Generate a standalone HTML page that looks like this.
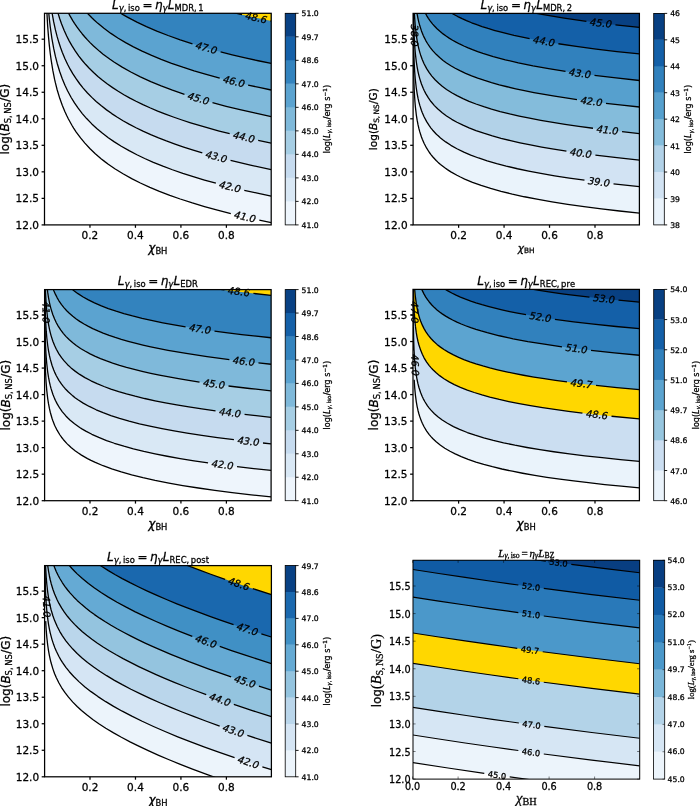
<!DOCTYPE html>
<html lang="en"><head><meta charset="utf-8"><title>Luminosity contours</title>
<style>
html,body{margin:0;padding:0;background:#fff;}
body{width:700px;height:806px;overflow:hidden;font-family:"DejaVu Sans","Liberation Sans",sans-serif;}
svg{display:block;}
text{fill:#000;stroke:#000;stroke-width:0.28px;}
</style></head><body>
<svg width="700" height="806" viewBox="0 0 700 806">
<rect width="700" height="806" fill="#fff"/>
<clipPath id="c0"><rect x="44.50" y="13.30" width="226.70" height="211.60"/></clipPath>
<g clip-path="url(#c0)">
<polygon fill="#eef5fc" points="46.5,-46.7 46.51,5.24 47.62,25.43 48.49,36.66 49.35,45.68 50.22,53.22 51.09,59.70 52.82,70.44 54.55,79.14 56.29,86.46 58.89,95.63 61.49,103.27 63.22,107.75 64.95,111.82 66.69,115.57 68.42,119.03 71.89,125.26 73.62,128.09 76.22,132.03 80.55,137.93 83.15,141.13 85.75,144.13 88.35,146.95 91.82,150.45 94.42,152.91 97.88,156.01 101.35,158.91 104.82,161.63 108.28,164.21 112.61,167.24 120.41,172.23 129.08,177.21 138.61,182.13 149.01,186.96 159.41,191.33 170.68,195.64 182.81,199.87 195.81,204.01 208.81,207.81 223.54,211.76 238.27,215.41 254.73,219.17 271.20,222.64 273.2,222.6 273.2,-46.7"/>
<polygon fill="#d9e8f5" points="47.6,-46.7 47.62,-1.10 48.49,10.13 49.35,19.15 50.22,26.69 51.09,33.17 52.82,43.91 54.55,52.61 55.42,56.41 57.15,63.19 59.75,71.79 62.35,79.03 64.95,85.29 66.69,89.04 68.42,92.50 71.89,98.73 73.62,101.56 76.22,105.50 80.55,111.40 83.15,114.60 85.75,117.60 90.95,123.07 93.55,125.58 97.02,128.73 103.08,133.76 110.01,138.91 113.48,141.29 117.81,144.10 125.61,148.75 134.28,153.43 143.81,158.08 153.34,162.30 163.74,166.51 175.01,170.67 186.27,174.48 198.41,178.27 211.41,182.00 225.27,185.68 240.00,189.29 255.60,192.83 271.20,196.11 273.2,196.1 273.2,-46.7"/>
<polygon fill="#c6dbef" points="51.1,-46.7 51.09,6.65 52.82,17.38 54.55,26.08 56.29,33.40 58.02,39.71 60.62,47.81 63.22,54.69 65.82,60.68 69.29,67.61 72.75,73.64 76.22,78.97 80.55,84.87 84.88,90.10 90.08,95.67 95.28,100.65 100.48,105.14 106.55,109.88 112.61,114.18 119.55,118.64 127.35,123.20 135.15,127.34 143.81,131.55 152.48,135.41 162.01,139.30 171.54,142.90 181.94,146.52 193.21,150.15 204.47,153.52 216.61,156.89 229.60,160.24 242.60,163.37 256.47,166.49 271.20,169.58 273.2,169.6 273.2,-46.7"/>
<polygon fill="#a6cee4" points="56.3,-46.7 56.29,6.87 58.02,13.18 60.62,21.28 62.35,25.98 64.95,32.24 67.55,37.75 71.02,44.20 74.48,49.85 77.95,54.89 81.42,59.43 85.75,64.55 90.08,69.15 95.28,74.12 100.48,78.61 105.68,82.70 110.88,86.46 116.95,90.49 123.01,94.20 129.95,98.09 136.88,101.69 144.68,105.42 152.48,108.88 161.14,112.43 169.81,115.74 179.34,119.11 188.87,122.26 199.27,125.47 209.67,128.46 220.94,131.50 233.07,134.57 245.20,137.44 258.20,140.33 271.20,143.05 273.2,143.1 273.2,-46.7"/>
<polygon fill="#7fb9da" points="65.0,-46.7 64.95,5.71 67.55,11.22 70.15,16.14 72.75,20.58 76.22,25.91 79.68,30.69 83.15,35.02 86.62,38.97 90.08,42.62 94.42,46.80 98.75,50.64 103.08,54.18 108.28,58.09 113.48,61.70 118.68,65.05 123.88,68.17 129.95,71.57 136.01,74.73 142.95,78.09 149.88,81.23 156.81,84.16 164.61,87.25 172.41,90.15 180.21,92.88 188.87,95.73 197.54,98.42 207.07,101.20 216.61,103.83 227.00,106.53 237.40,109.09 248.67,111.70 259.93,114.18 271.20,116.53 273.2,116.5 273.2,-46.7"/>
<polygon fill="#5ba3d0" points="81.4,-46.7 81.42,6.38 84.02,9.51 87.48,13.38 90.95,16.96 94.42,20.27 97.88,23.36 101.35,26.26 104.82,28.99 109.15,32.19 113.48,35.17 117.81,37.98 122.15,40.63 127.35,43.61 132.55,46.42 137.75,49.06 142.95,51.56 149.01,54.32 155.08,56.92 161.14,59.38 173.28,63.94 187.14,68.65 201.87,73.18 217.47,77.53 234.80,81.93 252.14,85.95 271.20,90.00 273.2,90.0 273.2,-46.7"/>
<polygon fill="#3383be" points="110.9,-46.7 110.88,6.88 117.81,11.45 124.75,15.62 131.68,19.43 139.48,23.38 147.28,27.02 155.94,30.75 165.48,34.53 175.01,38.02 185.41,41.56 195.81,44.84 207.07,48.15 218.34,51.23 230.47,54.34 243.47,57.46 257.33,60.56 271.20,63.47 273.2,63.5 273.2,-46.7"/>
<polygon fill="#1460a8" points="212.3,-46.7 212.27,7.15 226.14,10.81 240.00,14.20 255.60,17.74 271.20,21.02 273.2,21.0 273.2,-46.7"/>
<polygon fill="#ffd700" points="212.3,-46.7 212.27,7.15 226.14,10.81 240.00,14.20 255.60,17.74 271.20,21.02 273.2,21.0 273.2,-46.7"/>
<polyline fill="none" stroke="#000" stroke-width="1.3" stroke-linejoin="round" points="46.51,5.24 47.62,25.43 48.49,36.66 49.35,45.68 50.22,53.22 51.09,59.70 52.82,70.44 54.55,79.14 55.42,82.94 57.15,89.72 59.75,98.32 62.35,105.56 64.95,111.82 66.69,115.57 68.42,119.03 71.89,125.26 73.62,128.09 76.22,132.03 80.55,137.93 84.88,143.15 90.08,148.73 95.28,153.71 101.35,158.91 104.82,161.63 108.28,164.21 115.21,168.96 123.01,173.78 131.68,178.60 140.35,182.97 149.88,187.34 159.41,191.33 169.81,195.32 180.21,199.00 192.34,202.94 204.47,206.58 217.47,210.18 230.82,213.60"/>
<polyline fill="none" stroke="#000" stroke-width="1.3" stroke-linejoin="round" points="259.32,220.16 271.20,222.64"/>
<polyline fill="none" stroke="#000" stroke-width="1.3" stroke-linejoin="round" points="47.62,-1.10 48.49,10.13 49.35,19.15 50.22,26.69 51.95,38.85 53.69,48.47 55.42,56.41 57.15,63.19 59.75,71.79 62.35,79.03 64.95,85.29 67.55,90.80 71.02,97.25 74.48,102.91 77.95,107.95 82.28,113.56 86.62,118.56 91.82,123.92 97.02,128.73 102.22,133.07 108.28,137.68 114.35,141.86 121.28,146.22 129.08,150.68 136.88,154.75 144.68,158.48 153.34,162.30 162.88,166.17 172.41,169.74 182.81,173.34 193.21,176.68 204.47,180.05 215.88,183.22"/>
<polyline fill="none" stroke="#000" stroke-width="1.3" stroke-linejoin="round" points="244.26,190.28 257.33,193.20 271.20,196.11"/>
<polyline fill="none" stroke="#000" stroke-width="1.3" stroke-linejoin="round" points="51.09,6.65 51.95,12.32 53.69,21.94 55.42,29.89 57.15,36.66 58.89,42.57 60.62,47.81 62.35,52.51 64.95,58.77 67.55,64.27 70.15,69.19 72.75,73.64 76.22,78.97 79.68,83.75 83.15,88.08 87.48,92.97 91.82,97.39 96.15,101.43 101.35,105.85 106.55,109.88 111.75,113.59 116.95,117.02 123.01,120.72 129.08,124.15 136.01,127.78 142.95,131.15 150.74,134.66 158.54,137.92 166.34,140.97 175.01,144.14 183.67,147.10 193.21,150.15 202.31,152.89"/>
<polyline fill="none" stroke="#000" stroke-width="1.3" stroke-linejoin="round" points="230.55,160.48 250.40,165.15 271.20,169.58"/>
<polyline fill="none" stroke="#000" stroke-width="1.3" stroke-linejoin="round" points="56.29,6.87 58.02,13.18 59.75,18.73 61.49,23.69 64.09,30.24 66.69,35.98 69.29,41.08 71.89,45.68 75.35,51.17 78.82,56.07 82.28,60.50 85.75,64.55 89.22,68.26 93.55,72.52 97.88,76.42 102.22,80.02 107.42,83.99 112.61,87.65 117.81,91.04 123.88,94.70 129.95,98.09 136.01,101.25 142.95,104.62 149.88,107.75 157.68,111.04 165.48,114.11 173.28,116.99 181.94,119.99 190.61,122.81 200.14,125.72 209.67,128.46 219.20,131.05 229.69,133.73"/>
<polyline fill="none" stroke="#000" stroke-width="1.3" stroke-linejoin="round" points="258.18,140.33 271.20,143.05"/>
<polyline fill="none" stroke="#000" stroke-width="1.3" stroke-linejoin="round" points="64.95,5.71 66.69,9.45 68.42,12.92 70.15,16.14 72.75,20.58 74.48,23.33 77.08,27.15 79.68,30.69 82.28,33.97 84.88,37.04 87.48,39.91 90.08,42.62 93.55,45.99 99.62,51.37 103.08,54.18 106.55,56.82 110.01,59.33 114.35,62.28 122.15,67.16 130.81,72.03 140.35,76.86 150.74,81.60 161.14,85.91 172.41,90.15 184.48,94.31"/>
<polyline fill="none" stroke="#000" stroke-width="1.3" stroke-linejoin="round" points="212.49,102.71 226.14,106.31 240.00,109.70 255.60,113.24 271.20,116.53"/>
<polyline fill="none" stroke="#000" stroke-width="1.3" stroke-linejoin="round" points="81.42,6.38 84.02,9.51 86.62,12.45 91.82,17.81 94.42,20.27 97.88,23.36 103.95,28.32 110.88,33.40 117.81,37.98 125.61,42.64 133.41,46.87 142.08,51.15 151.61,55.45 161.14,59.38 171.54,63.31 182.81,67.23 194.07,70.84 206.21,74.43 219.73,78.13"/>
<polyline fill="none" stroke="#000" stroke-width="1.3" stroke-linejoin="round" points="248.14,85.05 259.07,87.46 271.20,90.00"/>
<polyline fill="none" stroke="#000" stroke-width="1.3" stroke-linejoin="round" points="110.88,6.88 118.68,11.99 123.01,14.61 127.35,17.08 131.68,19.43 136.88,22.10 146.41,26.63 156.81,31.10 168.08,35.51 180.21,39.82 192.49,43.82"/>
<polyline fill="none" stroke="#000" stroke-width="1.3" stroke-linejoin="round" points="220.61,51.83 232.20,54.77 245.20,57.86 258.20,60.75 271.20,63.47"/>
<polyline fill="none" stroke="#000" stroke-width="1.3" stroke-linejoin="round" points="212.27,7.15 227.00,11.03 241.93,14.65"/>
<polyline fill="none" stroke="#000" stroke-width="1.3" stroke-linejoin="round" points="270.50,20.88 271.20,21.02"/>
</g>
<text x="245.07" y="216.88" font-size="9.90" font-family='"DejaVu Sans","Liberation Sans",sans-serif' font-style="italic" text-anchor="middle" dominant-baseline="central" stroke-width="0.12" transform="rotate(13.0 245.07 216.88)">41.0</text>
<text x="230.07" y="186.75" font-size="9.90" font-family='"DejaVu Sans","Liberation Sans",sans-serif' font-style="italic" text-anchor="middle" dominant-baseline="central" stroke-width="0.12" transform="rotate(14.0 230.07 186.75)">42.0</text>
<text x="216.43" y="156.68" font-size="9.90" font-family='"DejaVu Sans","Liberation Sans",sans-serif' font-style="italic" text-anchor="middle" dominant-baseline="central" stroke-width="0.12" transform="rotate(15.0 216.43 156.68)">43.0</text>
<text x="243.94" y="137.03" font-size="9.90" font-family='"DejaVu Sans","Liberation Sans",sans-serif' font-style="italic" text-anchor="middle" dominant-baseline="central" stroke-width="0.12" transform="rotate(13.0 243.94 137.03)">44.0</text>
<text x="198.48" y="98.51" font-size="9.90" font-family='"DejaVu Sans","Liberation Sans",sans-serif' font-style="italic" text-anchor="middle" dominant-baseline="central" stroke-width="0.12" transform="rotate(16.7 198.48 98.51)">45.0</text>
<text x="233.93" y="81.59" font-size="9.90" font-family='"DejaVu Sans","Liberation Sans",sans-serif' font-style="italic" text-anchor="middle" dominant-baseline="central" stroke-width="0.12" transform="rotate(13.7 233.93 81.59)">46.0</text>
<text x="206.55" y="47.82" font-size="9.90" font-family='"DejaVu Sans","Liberation Sans",sans-serif' font-style="italic" text-anchor="middle" dominant-baseline="central" stroke-width="0.12" transform="rotate(15.9 206.55 47.82)">47.0</text>
<text x="256.21" y="17.77" font-size="9.90" font-family='"DejaVu Sans","Liberation Sans",sans-serif' font-style="italic" text-anchor="middle" dominant-baseline="central" stroke-width="0.12" transform="rotate(12.3 256.21 17.77)">48.6</text>
<rect x="44.50" y="13.30" width="226.70" height="211.60" fill="none" stroke="#000" stroke-width="1.25"/>
<line x1="89.96" x2="89.96" y1="224.90" y2="227.80" stroke="#000" stroke-width="1.25"/>
<text x="89.96" y="239.05" font-size="10.5" font-family='"DejaVu Sans","Liberation Sans",sans-serif' text-anchor="middle">0.2</text>
<line x1="135.44" x2="135.44" y1="224.90" y2="227.80" stroke="#000" stroke-width="1.25"/>
<text x="135.44" y="239.05" font-size="10.5" font-family='"DejaVu Sans","Liberation Sans",sans-serif' text-anchor="middle">0.4</text>
<line x1="180.92" x2="180.92" y1="224.90" y2="227.80" stroke="#000" stroke-width="1.25"/>
<text x="180.92" y="239.05" font-size="10.5" font-family='"DejaVu Sans","Liberation Sans",sans-serif' text-anchor="middle">0.6</text>
<line x1="226.40" x2="226.40" y1="224.90" y2="227.80" stroke="#000" stroke-width="1.25"/>
<text x="226.40" y="239.05" font-size="10.5" font-family='"DejaVu Sans","Liberation Sans",sans-serif' text-anchor="middle">0.8</text>
<line x1="44.50" x2="41.60" y1="224.90" y2="224.90" stroke="#000" stroke-width="1.25"/>
<text x="39.00" y="228.89" font-size="10.5" font-family='"DejaVu Sans","Liberation Sans",sans-serif' text-anchor="end">12.0</text>
<line x1="44.50" x2="41.60" y1="198.37" y2="198.37" stroke="#000" stroke-width="1.25"/>
<text x="39.00" y="202.36" font-size="10.5" font-family='"DejaVu Sans","Liberation Sans",sans-serif' text-anchor="end">12.5</text>
<line x1="44.50" x2="41.60" y1="171.84" y2="171.84" stroke="#000" stroke-width="1.25"/>
<text x="39.00" y="175.83" font-size="10.5" font-family='"DejaVu Sans","Liberation Sans",sans-serif' text-anchor="end">13.0</text>
<line x1="44.50" x2="41.60" y1="145.31" y2="145.31" stroke="#000" stroke-width="1.25"/>
<text x="39.00" y="149.30" font-size="10.5" font-family='"DejaVu Sans","Liberation Sans",sans-serif' text-anchor="end">13.5</text>
<line x1="44.50" x2="41.60" y1="118.79" y2="118.79" stroke="#000" stroke-width="1.25"/>
<text x="39.00" y="122.78" font-size="10.5" font-family='"DejaVu Sans","Liberation Sans",sans-serif' text-anchor="end">14.0</text>
<line x1="44.50" x2="41.60" y1="92.26" y2="92.26" stroke="#000" stroke-width="1.25"/>
<text x="39.00" y="96.25" font-size="10.5" font-family='"DejaVu Sans","Liberation Sans",sans-serif' text-anchor="end">14.5</text>
<line x1="44.50" x2="41.60" y1="65.73" y2="65.73" stroke="#000" stroke-width="1.25"/>
<text x="39.00" y="69.72" font-size="10.5" font-family='"DejaVu Sans","Liberation Sans",sans-serif' text-anchor="end">15.0</text>
<line x1="44.50" x2="41.60" y1="39.20" y2="39.20" stroke="#000" stroke-width="1.25"/>
<text x="39.00" y="43.19" font-size="10.5" font-family='"DejaVu Sans","Liberation Sans",sans-serif' text-anchor="end">15.5</text>
<text transform="translate(157.85 8.60)" font-family='"DejaVu Sans","Liberation Sans",sans-serif'><tspan x="-45.82" y="-0.00" font-size="12.00" font-style="italic">L</tspan><tspan x="-39.14" y="1.97" font-size="8.40" font-style="italic">γ</tspan><tspan x="-34.17 -29.86 -27.53 -23.15" y="1.97" font-size="8.40">,iso</tspan><tspan x="-15.35" y="-0.00" font-size="12.00">=</tspan><tspan x="-2.95" y="-0.00" font-size="12.00" font-style="italic">η</tspan><tspan x="4.65" y="1.97" font-size="8.40" font-style="italic">γ</tspan><tspan x="9.95" y="-0.00" font-size="12.00" font-style="italic">L</tspan><tspan x="16.64 23.88 30.35 36.19 40.50" y="1.97" font-size="8.40">MDR,1</tspan></text>
<text transform="translate(157.85 251.90)" font-family='"DejaVu Sans","Liberation Sans",sans-serif'><tspan x="-9.58" y="-0.00" font-size="12.00" font-style="italic">χ</tspan><tspan x="-2.48 3.28" y="1.97" font-size="8.40">BH</tspan></text>
<text transform="translate(9.00 119.10) rotate(-90)" font-family='"DejaVu Sans","Liberation Sans",sans-serif'><tspan x="-35.41 -32.07 -24.73 -17.11" y="-0.00" font-size="12.00">log(</tspan><tspan x="-12.43" y="-0.00" font-size="12.00" font-style="italic">B</tspan><tspan x="-4.20 1.13 5.44 11.72" y="1.97" font-size="8.40">S,NS</tspan><tspan x="17.38 21.43 30.72" y="-0.00" font-size="12.00">/G)</tspan></text>
<rect x="285.20" y="201.09" width="10.50" height="23.81" fill="#eef5fc"/>
<rect x="285.20" y="177.58" width="10.50" height="23.81" fill="#d9e8f5"/>
<rect x="285.20" y="154.07" width="10.50" height="23.81" fill="#c6dbef"/>
<rect x="285.20" y="130.56" width="10.50" height="23.81" fill="#a6cee4"/>
<rect x="285.20" y="107.04" width="10.50" height="23.81" fill="#7fb9da"/>
<rect x="285.20" y="83.53" width="10.50" height="23.81" fill="#5ba3d0"/>
<rect x="285.20" y="60.02" width="10.50" height="23.81" fill="#3383be"/>
<rect x="285.20" y="36.51" width="10.50" height="23.81" fill="#1460a8"/>
<rect x="285.20" y="13.00" width="10.50" height="23.81" fill="#084184"/>
<rect x="285.20" y="13.30" width="10.50" height="211.60" fill="none" stroke="#000" stroke-width="0.8"/>
<line x1="295.70" x2="298.60" y1="224.90" y2="224.90" stroke="#000" stroke-width="0.9"/>
<text x="301.60" y="227.97" font-size="7.7" font-family='"DejaVu Sans","Liberation Sans",sans-serif'>41.0</text>
<line x1="295.70" x2="298.60" y1="201.39" y2="201.39" stroke="#000" stroke-width="0.9"/>
<text x="301.60" y="204.46" font-size="7.7" font-family='"DejaVu Sans","Liberation Sans",sans-serif'>42.0</text>
<line x1="295.70" x2="298.60" y1="177.88" y2="177.88" stroke="#000" stroke-width="0.9"/>
<text x="301.60" y="180.95" font-size="7.7" font-family='"DejaVu Sans","Liberation Sans",sans-serif'>43.0</text>
<line x1="295.70" x2="298.60" y1="154.37" y2="154.37" stroke="#000" stroke-width="0.9"/>
<text x="301.60" y="157.44" font-size="7.7" font-family='"DejaVu Sans","Liberation Sans",sans-serif'>44.0</text>
<line x1="295.70" x2="298.60" y1="130.86" y2="130.86" stroke="#000" stroke-width="0.9"/>
<text x="301.60" y="133.93" font-size="7.7" font-family='"DejaVu Sans","Liberation Sans",sans-serif'>45.0</text>
<line x1="295.70" x2="298.60" y1="107.34" y2="107.34" stroke="#000" stroke-width="0.9"/>
<text x="301.60" y="110.42" font-size="7.7" font-family='"DejaVu Sans","Liberation Sans",sans-serif'>46.0</text>
<line x1="295.70" x2="298.60" y1="83.83" y2="83.83" stroke="#000" stroke-width="0.9"/>
<text x="301.60" y="86.91" font-size="7.7" font-family='"DejaVu Sans","Liberation Sans",sans-serif'>47.0</text>
<line x1="295.70" x2="298.60" y1="60.32" y2="60.32" stroke="#000" stroke-width="0.9"/>
<text x="301.60" y="63.39" font-size="7.7" font-family='"DejaVu Sans","Liberation Sans",sans-serif'>48.6</text>
<line x1="295.70" x2="298.60" y1="36.81" y2="36.81" stroke="#000" stroke-width="0.9"/>
<text x="301.60" y="39.88" font-size="7.7" font-family='"DejaVu Sans","Liberation Sans",sans-serif'>49.7</text>
<line x1="295.70" x2="298.60" y1="13.30" y2="13.30" stroke="#000" stroke-width="0.9"/>
<text x="301.60" y="16.37" font-size="7.7" font-family='"DejaVu Sans","Liberation Sans",sans-serif'>51.0</text>
<text transform="translate(330.00 119.10) rotate(-90)" font-family='"DejaVu Sans","Liberation Sans",sans-serif'><tspan x="-34.25 -32.03 -27.13 -22.05" y="-0.00" font-size="8.00">log(</tspan><tspan x="-18.93" y="-0.00" font-size="8.00" font-style="italic">L</tspan><tspan x="-14.48" y="1.31" font-size="5.60" font-style="italic">γ</tspan><tspan x="-11.16 -8.29 -6.73 -3.82" y="1.31" font-size="5.60">,iso</tspan><tspan x="-0.17 2.52 7.44 10.73 18.41" y="-0.00" font-size="8.00">/ergs</tspan><tspan x="22.65 27.35" y="-3.06" font-size="5.60">−1</tspan><tspan x="31.13" y="-0.00" font-size="8.00">)</tspan></text>
<clipPath id="c1"><rect x="413.10" y="13.40" width="226.30" height="211.50"/></clipPath>
<g clip-path="url(#c1)">
<polygon fill="#eaf3fb" points="413.2,-46.6 413.16,6.30 413.36,54.06 413.59,69.97 413.94,83.24 414.49,95.18 415.16,104.46 416.27,114.54 417.14,120.15 418.00,124.66 418.87,128.43 420.60,134.50 422.33,139.31 423.19,141.38 424.92,145.03 427.51,149.62 429.24,152.24 430.97,154.59 434.43,158.67 436.16,160.47 438.76,162.93 441.35,165.15 444.81,167.82 447.41,169.63 450.87,171.85 454.32,173.87 457.78,175.72 461.24,177.44 465.57,179.43 469.89,181.25 474.22,182.95 483.73,186.28 494.11,189.44 505.35,192.44 517.46,195.28 531.30,198.15 546.00,200.85 562.43,203.54 579.73,206.06 597.89,208.45 617.78,210.80 639.40,213.12 641.4,213.1 641.4,-46.6"/>
<polygon fill="#d2e3f3" points="413.2,-46.6 413.22,6.30 413.35,26.20 413.56,42.12 413.89,55.38 414.34,65.99 414.84,73.95 415.41,80.58 416.27,88.01 417.14,93.62 418.00,98.13 418.87,101.90 419.73,105.14 421.46,110.50 422.33,112.78 424.06,116.75 426.65,121.66 428.38,124.44 430.11,126.91 431.84,129.15 433.57,131.19 435.30,133.06 437.89,135.61 442.22,139.32 444.81,141.29 448.27,143.68 450.87,145.32 454.32,147.34 457.78,149.20 461.24,150.92 469.03,154.37 477.68,157.69 487.19,160.85 497.57,163.88 509.67,166.96 521.78,169.69 535.62,172.45 549.46,174.92 565.02,177.41 581.46,179.77 599.62,182.13 618.64,184.37 639.40,186.59 641.4,186.6 641.4,-46.6"/>
<polygon fill="#b2d2e8" points="413.4,-46.6 413.42,6.30 413.67,20.90 414.04,32.83 414.57,43.44 415.28,52.73 416.27,61.48 417.14,67.09 418.00,71.60 418.87,75.37 420.60,81.44 422.33,86.25 423.19,88.32 424.92,91.98 427.51,96.56 429.24,99.18 430.97,101.53 434.43,105.61 437.89,109.08 442.22,112.79 444.81,114.76 447.41,116.57 450.00,118.25 453.46,120.32 459.51,123.54 462.97,125.20 467.30,127.12 475.08,130.21 483.73,133.22 493.24,136.14 503.62,138.94 514.86,141.64 526.97,144.23 539.94,146.72 553.78,149.11 569.35,151.53 584.92,153.71 602.21,155.92 620.37,158.04 639.40,160.06 641.4,160.1 641.4,-46.6"/>
<polygon fill="#84bcdb" points="414.0,-46.6 414.04,6.30 414.49,15.59 415.16,24.87 416.27,34.96 417.14,40.56 418.00,45.07 418.87,48.84 419.73,52.08 421.46,57.44 422.33,59.72 424.06,63.69 426.65,68.60 429.24,72.65 430.97,75.00 432.70,77.13 436.16,80.88 439.62,84.11 443.95,87.59 449.14,91.18 454.32,94.28 460.38,97.44 467.30,100.59 475.08,103.68 482.86,106.41 491.51,109.10 501.03,111.74 511.40,114.32 521.78,116.63 533.89,119.06 546.00,121.27 558.97,123.41 573.67,125.63 588.37,127.64 604.81,129.71 621.24,131.61 639.40,133.53 641.4,133.5 641.4,-46.6"/>
<polygon fill="#56a0ce" points="415.4,-46.6 415.41,1.00 416.27,8.43 417.14,14.04 418.00,18.54 418.87,22.31 419.73,25.55 421.46,30.91 423.19,35.26 424.06,37.16 425.78,40.55 428.38,44.85 430.97,48.47 434.43,52.56 437.89,56.02 442.22,59.73 446.54,62.93 451.73,66.25 456.92,69.16 462.11,71.74 468.16,74.43 475.08,77.15 482.86,79.88 490.65,82.32 499.30,84.76 508.81,87.17 518.32,89.36 528.70,91.52 539.94,93.66 552.05,95.76 565.02,97.82 578.00,99.71 592.70,101.68 607.40,103.49 622.97,105.27 639.40,107.00 641.4,107.0 641.4,-46.6"/>
<polygon fill="#3181bd" points="422.3,-46.6 422.33,6.66 424.06,10.64 425.78,14.02 427.51,16.98 430.11,20.80 432.70,24.08 435.30,26.94 438.76,30.29 442.22,33.20 445.68,35.79 450.00,38.67 454.32,41.22 458.65,43.52 463.84,46.01 469.03,48.26 475.08,50.63 481.13,52.77 488.05,55.01 494.97,57.04 501.89,58.91 509.67,60.85 517.46,62.64 526.11,64.47 535.62,66.33 545.13,68.06 555.51,69.80 565.89,71.42 588.37,74.59 612.59,77.57 639.40,80.48 641.4,80.5 641.4,-46.6"/>
<polygon fill="#1460a8" points="443.1,-46.6 443.08,7.35 445.68,9.26 449.14,11.59 455.19,15.17 458.65,17.00 462.97,19.09 470.76,22.43 479.40,25.65 488.92,28.74 499.30,31.70 510.54,34.53 522.65,37.23 536.48,39.97 550.32,42.42 565.89,44.89 582.32,47.25 600.48,49.60 619.51,51.83 639.40,53.95 641.4,53.9 641.4,-46.6"/>
<polygon fill="#084082" points="507.9,-46.6 507.94,7.38 520.05,10.15 533.89,12.95 548.59,15.60 564.16,18.10 581.46,20.60 599.62,22.96 618.64,25.20 639.40,27.42 641.4,27.4 641.4,-46.6"/>
<polyline fill="none" stroke="#000" stroke-width="1.3" stroke-linejoin="round" points="413.16,6.30 413.19,20.86"/>
<polyline fill="none" stroke="#000" stroke-width="1.3" stroke-linejoin="round" points="413.32,50.11 413.54,67.32 413.85,80.58 414.34,92.52 414.94,101.81 415.41,107.11 416.27,114.54 417.14,120.15 418.00,124.66 418.87,128.43 419.73,131.66 421.46,137.03 422.33,139.31 424.06,143.28 426.65,148.19 429.24,152.24 430.97,154.59 432.70,156.72 436.16,160.47 437.89,162.14 440.49,164.43 444.81,167.82 447.41,169.63 450.87,171.85 456.92,175.27 460.38,177.03 464.70,179.04 472.49,182.28 481.13,185.42 490.65,188.43 501.03,191.33 512.27,194.10 524.38,196.76 538.21,199.46 552.05,201.88 567.62,204.33 584.05,206.65 601.35,208.88 619.51,211.00 639.40,213.12"/>
<polyline fill="none" stroke="#000" stroke-width="1.3" stroke-linejoin="round" points="413.22,6.30 413.51,39.47 413.77,51.40 414.15,62.01 414.65,71.30 415.28,79.26 416.27,88.01 417.14,93.62 418.00,98.13 418.87,101.90 419.73,105.14 421.46,110.50 422.33,112.78 424.06,116.75 426.65,121.66 429.24,125.71 430.97,128.06 432.70,130.19 436.16,133.94 437.89,135.61 440.49,137.90 443.08,139.99 445.68,141.91 450.87,145.32 456.92,148.75 463.84,152.13 470.76,155.07 478.54,157.99 487.19,160.85 496.70,163.64 506.21,166.12 517.46,168.75 528.70,171.11 540.81,173.41 554.65,175.78 569.35,178.05 584.48,180.18"/>
<polyline fill="none" stroke="#000" stroke-width="1.3" stroke-linejoin="round" points="613.50,183.79 639.40,186.59"/>
<polyline fill="none" stroke="#000" stroke-width="1.3" stroke-linejoin="round" points="413.42,6.30 413.64,19.57 413.94,30.18 414.34,39.47 414.94,48.75 415.41,54.06 416.27,61.48 417.14,67.09 418.00,71.60 418.87,75.37 419.73,78.61 421.46,83.97 423.19,88.32 424.06,90.22 425.78,93.61 428.38,97.91 430.97,101.53 434.43,105.61 437.89,109.08 442.22,112.79 446.54,115.98 451.73,119.31 456.92,122.22 462.97,125.20 469.03,127.84 475.95,130.53 483.73,133.22 492.38,135.89 501.03,138.27 510.54,140.64 520.05,142.79 530.43,144.92 541.67,147.03 553.78,149.11 566.43,151.09"/>
<polyline fill="none" stroke="#000" stroke-width="1.3" stroke-linejoin="round" points="595.40,155.08 616.91,157.65 639.40,160.06"/>
<polyline fill="none" stroke="#000" stroke-width="1.3" stroke-linejoin="round" points="414.04,6.30 414.49,15.59 415.16,24.87 416.27,34.96 417.14,40.56 418.00,45.07 418.87,48.84 419.73,52.08 420.60,54.92 422.33,59.72 424.06,63.69 426.65,68.60 429.24,72.65 431.84,76.09 435.30,80.00 438.76,83.34 442.22,86.26 446.54,89.45 451.73,92.78 456.92,95.69 462.97,98.67 469.03,101.31 475.95,104.00 483.73,106.69 491.51,109.10 500.16,111.52 509.67,113.91 519.19,116.07 529.57,118.22 540.81,120.35 552.92,122.44 565.02,124.35 578.86,126.36 592.99,128.24"/>
<polyline fill="none" stroke="#000" stroke-width="1.3" stroke-linejoin="round" points="622.03,131.69 639.40,133.53"/>
<polyline fill="none" stroke="#000" stroke-width="1.3" stroke-linejoin="round" points="415.41,1.00 416.27,8.43 417.14,14.04 418.00,18.54 418.87,22.31 419.73,25.55 421.46,30.91 423.19,35.26 424.06,37.16 425.78,40.55 427.51,43.50 430.11,47.33 432.70,50.60 436.16,54.35 439.62,57.58 443.08,60.41 446.54,62.93 450.87,65.73 455.19,68.23 460.38,70.91 465.57,73.31 471.62,75.83 477.68,78.10 484.59,80.45 491.51,82.58 499.30,84.76 507.08,86.75 515.73,88.78 524.38,90.64 533.89,92.54 544.27,94.44 554.65,96.19 565.89,97.95 576.99,99.57"/>
<polyline fill="none" stroke="#000" stroke-width="1.3" stroke-linejoin="round" points="605.99,103.32 622.10,105.17 639.40,107.00"/>
<polyline fill="none" stroke="#000" stroke-width="1.3" stroke-linejoin="round" points="422.33,6.66 423.19,8.73 424.92,12.39 426.65,15.55 428.38,18.32 430.11,20.80 432.70,24.08 434.43,26.03 437.03,28.68 439.62,31.05 443.08,33.88 445.68,35.79 449.14,38.12 452.59,40.24 456.05,42.17 459.51,43.96 463.84,46.01 468.16,47.90 472.49,49.64 477.68,51.57 482.86,53.35 493.24,56.55 505.35,59.79 518.32,62.83 533.02,65.84 548.59,68.65 565.52,71.37"/>
<polyline fill="none" stroke="#000" stroke-width="1.3" stroke-linejoin="round" points="594.49,75.38 616.05,77.97 639.40,80.48"/>
<polyline fill="none" stroke="#000" stroke-width="1.3" stroke-linejoin="round" points="443.08,7.35 446.54,9.87 450.00,12.14 453.46,14.21 457.78,16.55 462.11,18.68 466.43,20.63 471.62,22.77 476.81,24.73 482.00,26.54 488.05,28.48 494.11,30.27 500.16,31.93 507.08,33.69 514.00,35.33 529.61,38.65"/>
<polyline fill="none" stroke="#000" stroke-width="1.3" stroke-linejoin="round" points="558.41,43.74 576.27,46.41 596.16,49.06 616.91,51.54 639.40,53.95"/>
<polyline fill="none" stroke="#000" stroke-width="1.3" stroke-linejoin="round" points="507.94,7.38 515.73,9.19 524.38,11.06 533.89,12.95 543.40,14.70 553.78,16.46 564.16,18.10 586.41,21.27"/>
<polyline fill="none" stroke="#000" stroke-width="1.3" stroke-linejoin="round" points="615.43,24.84 639.40,27.42"/>
</g>
<text x="414.56" y="35.49" font-size="9.90" font-family='"DejaVu Sans","Liberation Sans",sans-serif' font-style="italic" text-anchor="middle" dominant-baseline="central" stroke-width="0.12" transform="rotate(89.7 414.56 35.49)">38.0</text>
<text x="598.99" y="181.99" font-size="9.90" font-family='"DejaVu Sans","Liberation Sans",sans-serif' font-style="italic" text-anchor="middle" dominant-baseline="central" stroke-width="0.12" transform="rotate(7.1 598.99 181.99)">39.0</text>
<text x="580.92" y="153.09" font-size="9.90" font-family='"DejaVu Sans","Liberation Sans",sans-serif' font-style="italic" text-anchor="middle" dominant-baseline="central" stroke-width="0.12" transform="rotate(7.8 580.92 153.09)">40.0</text>
<text x="607.51" y="129.97" font-size="9.90" font-family='"DejaVu Sans","Liberation Sans",sans-serif' font-style="italic" text-anchor="middle" dominant-baseline="central" stroke-width="0.12" transform="rotate(6.8 607.51 129.97)">41.0</text>
<text x="591.49" y="101.45" font-size="9.90" font-family='"DejaVu Sans","Liberation Sans",sans-serif' font-style="italic" text-anchor="middle" dominant-baseline="central" stroke-width="0.12" transform="rotate(7.4 591.49 101.45)">42.0</text>
<text x="580.01" y="73.37" font-size="9.90" font-family='"DejaVu Sans","Liberation Sans",sans-serif' font-style="italic" text-anchor="middle" dominant-baseline="central" stroke-width="0.12" transform="rotate(7.9 580.01 73.37)">43.0</text>
<text x="544.01" y="41.19" font-size="9.90" font-family='"DejaVu Sans","Liberation Sans",sans-serif' font-style="italic" text-anchor="middle" dominant-baseline="central" stroke-width="0.12" transform="rotate(10.0 544.01 41.19)">44.0</text>
<text x="600.92" y="23.05" font-size="9.90" font-family='"DejaVu Sans","Liberation Sans",sans-serif' font-style="italic" text-anchor="middle" dominant-baseline="central" stroke-width="0.12" transform="rotate(7.0 600.92 23.05)">45.0</text>
<rect x="413.10" y="13.40" width="226.30" height="211.50" fill="none" stroke="#000" stroke-width="1.25"/>
<line x1="458.60" x2="458.60" y1="224.90" y2="227.80" stroke="#000" stroke-width="1.25"/>
<text x="458.60" y="239.05" font-size="10.5" font-family='"DejaVu Sans","Liberation Sans",sans-serif' text-anchor="middle">0.2</text>
<line x1="504.07" x2="504.07" y1="224.90" y2="227.80" stroke="#000" stroke-width="1.25"/>
<text x="504.07" y="239.05" font-size="10.5" font-family='"DejaVu Sans","Liberation Sans",sans-serif' text-anchor="middle">0.4</text>
<line x1="549.53" x2="549.53" y1="224.90" y2="227.80" stroke="#000" stroke-width="1.25"/>
<text x="549.53" y="239.05" font-size="10.5" font-family='"DejaVu Sans","Liberation Sans",sans-serif' text-anchor="middle">0.6</text>
<line x1="595.00" x2="595.00" y1="224.90" y2="227.80" stroke="#000" stroke-width="1.25"/>
<text x="595.00" y="239.05" font-size="10.5" font-family='"DejaVu Sans","Liberation Sans",sans-serif' text-anchor="middle">0.8</text>
<line x1="413.10" x2="410.20" y1="224.90" y2="224.90" stroke="#000" stroke-width="1.25"/>
<text x="407.60" y="228.89" font-size="10.5" font-family='"DejaVu Sans","Liberation Sans",sans-serif' text-anchor="end">12.0</text>
<line x1="413.10" x2="410.20" y1="198.37" y2="198.37" stroke="#000" stroke-width="1.25"/>
<text x="407.60" y="202.36" font-size="10.5" font-family='"DejaVu Sans","Liberation Sans",sans-serif' text-anchor="end">12.5</text>
<line x1="413.10" x2="410.20" y1="171.84" y2="171.84" stroke="#000" stroke-width="1.25"/>
<text x="407.60" y="175.83" font-size="10.5" font-family='"DejaVu Sans","Liberation Sans",sans-serif' text-anchor="end">13.0</text>
<line x1="413.10" x2="410.20" y1="145.31" y2="145.31" stroke="#000" stroke-width="1.25"/>
<text x="407.60" y="149.30" font-size="10.5" font-family='"DejaVu Sans","Liberation Sans",sans-serif' text-anchor="end">13.5</text>
<line x1="413.10" x2="410.20" y1="118.79" y2="118.79" stroke="#000" stroke-width="1.25"/>
<text x="407.60" y="122.78" font-size="10.5" font-family='"DejaVu Sans","Liberation Sans",sans-serif' text-anchor="end">14.0</text>
<line x1="413.10" x2="410.20" y1="92.26" y2="92.26" stroke="#000" stroke-width="1.25"/>
<text x="407.60" y="96.25" font-size="10.5" font-family='"DejaVu Sans","Liberation Sans",sans-serif' text-anchor="end">14.5</text>
<line x1="413.10" x2="410.20" y1="65.73" y2="65.73" stroke="#000" stroke-width="1.25"/>
<text x="407.60" y="69.72" font-size="10.5" font-family='"DejaVu Sans","Liberation Sans",sans-serif' text-anchor="end">15.0</text>
<line x1="413.10" x2="410.20" y1="39.20" y2="39.20" stroke="#000" stroke-width="1.25"/>
<text x="407.60" y="43.19" font-size="10.5" font-family='"DejaVu Sans","Liberation Sans",sans-serif' text-anchor="end">15.5</text>
<text transform="translate(526.25 8.60)" font-family='"DejaVu Sans","Liberation Sans",sans-serif'><tspan x="-45.82" y="-0.00" font-size="12.00" font-style="italic">L</tspan><tspan x="-39.14" y="1.97" font-size="8.40" font-style="italic">γ</tspan><tspan x="-34.17 -29.86 -27.53 -23.15" y="1.97" font-size="8.40">,iso</tspan><tspan x="-15.35" y="-0.00" font-size="12.00">=</tspan><tspan x="-2.95" y="-0.00" font-size="12.00" font-style="italic">η</tspan><tspan x="4.65" y="1.97" font-size="8.40" font-style="italic">γ</tspan><tspan x="9.95" y="-0.00" font-size="12.00" font-style="italic">L</tspan><tspan x="16.64 23.88 30.35 36.19 40.50" y="1.97" font-size="8.40">MDR,2</tspan></text>
<text transform="translate(526.25 251.50)" font-family='"DejaVu Sans","Liberation Sans",sans-serif'><tspan x="-8.40" y="0.00" font-size="10.50" font-style="italic">χ</tspan><tspan x="-2.19 2.86" y="1.80" font-size="7.35">BH</tspan></text>
<text transform="translate(377.00 119.15) rotate(-90)" font-family='"DejaVu Sans","Liberation Sans",sans-serif'><tspan x="-30.99 -28.07 -21.65 -14.98" y="-0.00" font-size="10.50">log(</tspan><tspan x="-10.88" y="-0.00" font-size="10.50" font-style="italic">B</tspan><tspan x="-3.68 0.98 4.75 10.25" y="1.80" font-size="7.35">S,NS</tspan><tspan x="15.22 18.75 26.89" y="-0.00" font-size="10.50">/G)</tspan></text>
<rect x="653.70" y="198.16" width="10.60" height="26.74" fill="#eaf3fb"/>
<rect x="653.70" y="171.72" width="10.60" height="26.74" fill="#d2e3f3"/>
<rect x="653.70" y="145.29" width="10.60" height="26.74" fill="#b2d2e8"/>
<rect x="653.70" y="118.85" width="10.60" height="26.74" fill="#84bcdb"/>
<rect x="653.70" y="92.41" width="10.60" height="26.74" fill="#56a0ce"/>
<rect x="653.70" y="65.98" width="10.60" height="26.74" fill="#3181bd"/>
<rect x="653.70" y="39.54" width="10.60" height="26.74" fill="#1460a8"/>
<rect x="653.70" y="13.10" width="10.60" height="26.74" fill="#084082"/>
<rect x="653.70" y="13.40" width="10.60" height="211.50" fill="none" stroke="#000" stroke-width="0.8"/>
<line x1="664.30" x2="667.20" y1="224.90" y2="224.90" stroke="#000" stroke-width="0.9"/>
<text x="670.20" y="227.97" font-size="7.7" font-family='"DejaVu Sans","Liberation Sans",sans-serif'>38</text>
<line x1="664.30" x2="667.20" y1="198.46" y2="198.46" stroke="#000" stroke-width="0.9"/>
<text x="670.20" y="201.53" font-size="7.7" font-family='"DejaVu Sans","Liberation Sans",sans-serif'>39</text>
<line x1="664.30" x2="667.20" y1="172.03" y2="172.03" stroke="#000" stroke-width="0.9"/>
<text x="670.20" y="175.10" font-size="7.7" font-family='"DejaVu Sans","Liberation Sans",sans-serif'>40</text>
<line x1="664.30" x2="667.20" y1="145.59" y2="145.59" stroke="#000" stroke-width="0.9"/>
<text x="670.20" y="148.66" font-size="7.7" font-family='"DejaVu Sans","Liberation Sans",sans-serif'>41</text>
<line x1="664.30" x2="667.20" y1="119.15" y2="119.15" stroke="#000" stroke-width="0.9"/>
<text x="670.20" y="122.22" font-size="7.7" font-family='"DejaVu Sans","Liberation Sans",sans-serif'>42</text>
<line x1="664.30" x2="667.20" y1="92.71" y2="92.71" stroke="#000" stroke-width="0.9"/>
<text x="670.20" y="95.78" font-size="7.7" font-family='"DejaVu Sans","Liberation Sans",sans-serif'>43</text>
<line x1="664.30" x2="667.20" y1="66.28" y2="66.28" stroke="#000" stroke-width="0.9"/>
<text x="670.20" y="69.35" font-size="7.7" font-family='"DejaVu Sans","Liberation Sans",sans-serif'>44</text>
<line x1="664.30" x2="667.20" y1="39.84" y2="39.84" stroke="#000" stroke-width="0.9"/>
<text x="670.20" y="42.91" font-size="7.7" font-family='"DejaVu Sans","Liberation Sans",sans-serif'>45</text>
<line x1="664.30" x2="667.20" y1="13.40" y2="13.40" stroke="#000" stroke-width="0.9"/>
<text x="670.20" y="16.47" font-size="7.7" font-family='"DejaVu Sans","Liberation Sans",sans-serif'>46</text>
<text transform="translate(691.30 119.15) rotate(-90)" font-family='"DejaVu Sans","Liberation Sans",sans-serif'><tspan x="-34.25 -32.03 -27.13 -22.05" y="-0.00" font-size="8.00">log(</tspan><tspan x="-18.93" y="-0.00" font-size="8.00" font-style="italic">L</tspan><tspan x="-14.48" y="1.31" font-size="5.60" font-style="italic">γ</tspan><tspan x="-11.16 -8.29 -6.73 -3.82" y="1.31" font-size="5.60">,iso</tspan><tspan x="-0.17 2.52 7.44 10.73 18.41" y="-0.00" font-size="8.00">/ergs</tspan><tspan x="22.65 27.35" y="-3.06" font-size="5.60">−1</tspan><tspan x="31.13" y="-0.00" font-size="8.00">)</tspan></text>
<clipPath id="c2"><rect x="44.60" y="289.60" width="226.50" height="211.10"/></clipPath>
<g clip-path="url(#c2)">
<polygon fill="#eef5fc" points="44.6,229.6 44.55,283.43 44.71,332.51 44.89,348.43 45.17,361.69 45.61,373.63 46.14,382.91 46.81,390.87 47.67,398.31 48.54,403.92 49.40,408.43 50.27,412.20 52.00,418.28 52.87,420.81 54.60,425.16 55.47,427.06 57.20,430.45 58.93,433.40 60.66,436.02 62.39,438.37 64.99,441.50 66.72,443.37 69.32,445.92 71.92,448.22 74.52,450.31 77.12,452.22 80.58,454.55 84.04,456.67 87.51,458.60 90.97,460.39 95.30,462.44 99.63,464.33 103.96,466.07 113.49,469.50 123.88,472.73 136.00,476.01 148.13,478.88 161.98,481.77 176.71,484.49 193.16,487.19 210.48,489.73 229.53,492.24 249.45,494.59 271.10,496.91 273.1,496.9 273.1,229.6"/>
<polygon fill="#d9e8f5" points="44.6,229.6 44.60,283.43 44.71,305.98 44.91,323.22 45.21,336.49 45.67,348.43 46.14,356.38 46.81,364.34 47.67,371.78 48.54,377.39 49.40,381.90 50.27,385.67 51.14,388.91 52.87,394.28 53.73,396.56 55.47,400.53 58.06,405.45 60.66,409.49 62.39,411.84 64.13,413.98 65.86,415.93 68.46,418.58 72.79,422.41 75.38,424.44 78.85,426.89 81.45,428.57 84.91,430.64 88.37,432.53 91.84,434.29 95.30,435.91 99.63,437.80 108.29,441.16 117.82,444.37 128.21,447.43 139.47,450.34 151.59,453.11 165.45,455.91 180.17,458.56 195.76,461.06 213.08,463.56 231.26,465.92 250.32,468.16 271.10,470.38 273.1,470.4 273.1,229.6"/>
<polygon fill="#c6dbef" points="44.7,229.6 44.75,283.43 44.96,299.35 45.29,312.61 45.81,324.55 46.45,333.84 46.81,337.81 47.67,345.25 48.54,350.87 49.40,355.38 50.27,359.15 51.14,362.39 52.87,367.75 53.73,370.03 55.47,374.00 58.06,378.92 60.66,382.96 62.39,385.31 64.13,387.45 67.59,391.20 69.32,392.87 71.92,395.16 74.52,397.25 77.12,399.17 79.71,400.93 83.18,403.10 89.24,406.46 92.70,408.17 97.03,410.16 104.83,413.35 113.49,416.44 123.01,419.42 133.41,422.29 144.66,425.04 156.79,427.67 169.78,430.19 183.63,432.61 199.22,435.06 215.68,437.39 233.00,439.61 251.18,441.73 271.10,443.85 273.1,443.9 273.1,229.6"/>
<polygon fill="#a6cee4" points="45.2,229.6 45.21,283.43 45.61,294.04 46.14,303.33 46.81,311.29 47.67,318.72 48.54,324.34 49.40,328.85 50.27,332.62 52.00,338.70 53.73,343.50 54.60,345.57 56.33,349.23 58.93,353.82 61.53,357.64 63.26,359.88 64.99,361.91 68.46,365.52 72.79,369.35 75.38,371.38 77.98,373.24 83.18,376.57 89.24,379.93 96.17,383.25 103.96,386.49 111.76,389.33 120.42,392.12 129.94,394.84 140.33,397.49 150.73,399.86 162.85,402.35 174.97,404.60 188.83,406.93 203.55,409.17 219.14,411.32 235.59,413.39 252.91,415.39 271.10,417.32 273.1,417.3 273.1,229.6"/>
<polygon fill="#7fb9da" points="46.7,229.6 46.68,283.43 47.67,292.19 48.54,297.81 49.40,302.32 50.27,306.09 51.14,309.33 52.87,314.70 54.60,319.05 56.33,322.70 58.93,327.29 61.53,331.11 63.26,333.35 64.99,335.39 68.46,338.99 72.79,342.82 77.12,346.11 81.45,348.98 86.64,352.02 92.70,355.12 98.77,357.85 105.69,360.62 113.49,363.38 121.28,365.85 129.94,368.31 139.47,370.75 148.99,372.95 159.39,375.14 170.64,377.29 182.77,379.41 195.76,381.48 208.75,383.38 223.47,385.36 238.19,387.18 254.65,389.06 271.10,390.79 273.1,390.8 273.1,229.6"/>
<polygon fill="#5ba3d0" points="51.1,229.6 51.14,282.80 52.87,288.17 54.60,292.52 56.33,296.17 58.06,299.33 60.66,303.38 63.26,306.82 65.86,309.81 69.32,313.28 72.79,316.29 76.25,318.96 80.58,321.91 84.91,324.52 90.11,327.31 95.30,329.80 100.50,332.04 106.56,334.41 112.62,336.56 119.55,338.80 127.34,341.07 135.14,343.15 143.80,345.25 152.46,347.18 161.98,349.13 171.51,350.92 181.90,352.74 193.16,354.55 204.42,356.23 216.54,357.92 242.52,361.16 271.10,364.27 273.1,364.3 273.1,229.6"/>
<polygon fill="#3383be" points="65.9,229.6 65.86,283.28 68.46,285.93 71.05,288.31 73.65,290.46 77.12,293.05 80.58,295.38 84.04,297.49 87.51,299.43 90.97,301.22 95.30,303.27 99.63,305.16 103.96,306.90 109.16,308.83 114.35,310.61 119.55,312.27 125.61,314.06 131.67,315.72 144.66,318.92 158.52,321.91 174.11,324.86 190.56,327.62 208.75,330.32 227.80,332.85 248.58,335.32 271.10,337.74 273.1,337.7 273.1,229.6"/>
<polygon fill="#1460a8" points="180.2,229.6 180.17,283.47 200.09,286.63 221.74,289.63 245.12,292.48 271.10,295.29 273.1,295.3 273.1,229.6"/>
<polygon fill="#ffd700" points="180.2,229.6 180.17,283.47 200.09,286.63 221.74,289.63 245.12,292.48 271.10,295.29 273.1,295.3 273.1,229.6"/>
<polyline fill="none" stroke="#000" stroke-width="1.3" stroke-linejoin="round" points="44.55,283.43 44.57,297.57"/>
<polyline fill="none" stroke="#000" stroke-width="1.3" stroke-linejoin="round" points="44.67,326.81 44.84,344.45 45.10,359.04 45.49,370.98 46.05,381.59 46.81,390.87 47.67,398.31 48.54,403.92 49.40,408.43 50.27,412.20 52.00,418.28 52.87,420.81 54.60,425.16 55.47,427.06 57.20,430.45 59.80,434.75 61.53,437.23 63.26,439.46 66.72,443.37 68.46,445.10 71.05,447.48 75.38,450.96 77.98,452.83 81.45,455.10 87.51,458.60 90.97,460.39 95.30,462.44 103.10,465.73 111.76,468.91 121.28,471.96 131.67,474.89 142.93,477.69 155.06,480.37 168.91,483.09 182.77,485.52 198.36,487.99 214.81,490.33 232.13,492.56 251.18,494.79 271.10,496.91"/>
<polyline fill="none" stroke="#000" stroke-width="1.3" stroke-linejoin="round" points="44.60,283.43 44.87,320.57 45.14,333.84 45.49,344.45 45.97,353.73 46.68,363.02 47.67,371.78 48.54,377.39 49.40,381.90 50.27,385.67 51.14,388.91 52.87,394.28 54.60,398.63 55.47,400.53 57.20,403.92 59.80,408.22 62.39,411.84 65.86,415.93 67.59,417.73 70.19,420.19 74.52,423.78 79.71,427.46 82.31,429.10 85.78,431.13 91.84,434.29 98.77,437.43 106.56,440.53 114.35,443.26 123.88,446.20 133.41,448.82 143.80,451.36 155.06,453.84 167.18,456.24 180.17,458.56 194.03,460.80 208.05,462.86"/>
<polyline fill="none" stroke="#000" stroke-width="1.3" stroke-linejoin="round" points="237.04,466.63 253.78,468.55 271.10,470.38"/>
<polyline fill="none" stroke="#000" stroke-width="1.3" stroke-linejoin="round" points="44.75,283.43 44.96,299.35 45.25,311.29 45.67,321.90 46.24,331.18 46.81,337.81 47.67,345.25 48.54,350.87 49.40,355.38 50.27,359.15 52.00,365.22 53.73,370.03 54.60,372.10 56.33,375.76 58.93,380.35 61.53,384.17 63.26,386.40 64.99,388.44 68.46,392.05 72.79,395.88 75.38,397.91 77.98,399.77 83.18,403.10 89.24,406.46 96.17,409.78 103.10,412.68 110.89,415.56 119.55,418.38 129.08,421.14 139.47,423.81 149.86,426.20 161.98,428.71 174.11,430.98 187.10,433.18 201.82,435.44 217.41,437.62 233.93,439.72"/>
<polyline fill="none" stroke="#000" stroke-width="1.3" stroke-linejoin="round" points="262.99,443.01 271.10,443.85"/>
<polyline fill="none" stroke="#000" stroke-width="1.3" stroke-linejoin="round" points="45.21,283.43 45.61,294.04 46.14,303.33 46.81,311.29 47.67,318.72 48.54,324.34 49.40,328.85 50.27,332.62 51.14,335.86 52.87,341.22 54.60,345.57 56.33,349.23 58.93,353.82 61.53,357.64 64.13,360.92 67.59,364.67 71.05,367.89 75.38,371.38 79.71,374.41 84.91,377.58 90.97,380.80 97.03,383.63 103.96,386.49 110.89,389.03 118.68,391.59 126.48,393.89 135.14,396.20 144.66,398.51 155.06,400.78 165.45,402.85 176.71,404.90 188.83,406.93 201.82,408.91 215.54,410.84"/>
<polyline fill="none" stroke="#000" stroke-width="1.3" stroke-linejoin="round" points="244.56,414.45 271.10,417.32"/>
<polyline fill="none" stroke="#000" stroke-width="1.3" stroke-linejoin="round" points="46.68,283.43 47.67,292.19 48.54,297.81 49.40,302.32 50.27,306.09 51.14,309.33 52.87,314.70 54.60,319.05 56.33,322.70 58.06,325.86 60.66,329.91 63.26,333.35 65.86,336.34 69.32,339.81 72.79,342.82 76.25,345.49 80.58,348.44 84.91,351.05 90.11,353.84 95.30,356.33 100.50,358.57 106.56,360.94 112.62,363.09 119.55,365.32 126.48,367.36 134.27,369.45 142.07,371.37 150.73,373.33 159.39,375.14 168.91,376.98 178.44,378.68 188.83,380.40 199.53,382.05"/>
<polyline fill="none" stroke="#000" stroke-width="1.3" stroke-linejoin="round" points="228.51,386.00 249.45,388.48 271.10,390.79"/>
<polyline fill="none" stroke="#000" stroke-width="1.3" stroke-linejoin="round" points="51.14,282.80 52.00,285.64 53.73,290.44 55.47,294.42 57.20,297.81 58.93,300.76 61.53,304.58 64.13,307.86 66.72,310.73 69.32,313.28 72.79,316.29 76.25,318.96 79.71,321.35 84.04,324.02 88.37,326.42 92.70,328.59 97.90,330.95 103.10,333.09 109.16,335.36 115.22,337.43 121.28,339.32 128.21,341.31 135.14,343.15 142.93,345.05 150.73,346.80 159.39,348.61 168.05,350.29 186.23,353.45 207.02,356.60 229.39,359.58"/>
<polyline fill="none" stroke="#000" stroke-width="1.3" stroke-linejoin="round" points="258.44,362.94 271.10,364.27"/>
<polyline fill="none" stroke="#000" stroke-width="1.3" stroke-linejoin="round" points="65.86,283.28 69.32,286.75 73.65,290.46 77.98,293.66 83.18,296.98 88.37,299.89 94.44,302.87 101.36,305.87 108.29,308.52 116.09,311.18 123.88,313.56 132.54,315.95 142.07,318.32 152.46,320.65 162.85,322.77 174.11,324.86 185.58,326.82"/>
<polyline fill="none" stroke="#000" stroke-width="1.3" stroke-linejoin="round" points="214.51,331.11 227.80,332.85 241.66,334.53 271.10,337.74"/>
<polyline fill="none" stroke="#000" stroke-width="1.3" stroke-linejoin="round" points="180.17,283.47 200.95,286.75 224.39,289.97"/>
<polyline fill="none" stroke="#000" stroke-width="1.3" stroke-linejoin="round" points="253.43,293.42 271.10,295.29"/>
</g>
<text x="45.92" y="312.19" font-size="9.90" font-family='"DejaVu Sans","Liberation Sans",sans-serif' font-style="italic" text-anchor="middle" dominant-baseline="central" stroke-width="0.12" transform="rotate(89.8 45.92 312.19)">41.0</text>
<text x="222.55" y="464.75" font-size="9.90" font-family='"DejaVu Sans","Liberation Sans",sans-serif' font-style="italic" text-anchor="middle" dominant-baseline="central" stroke-width="0.12" transform="rotate(7.4 222.55 464.75)">42.0</text>
<text x="248.46" y="441.37" font-size="9.90" font-family='"DejaVu Sans","Liberation Sans",sans-serif' font-style="italic" text-anchor="middle" dominant-baseline="central" stroke-width="0.12" transform="rotate(6.5 248.46 441.37)">43.0</text>
<text x="230.05" y="412.65" font-size="9.90" font-family='"DejaVu Sans","Liberation Sans",sans-serif' font-style="italic" text-anchor="middle" dominant-baseline="central" stroke-width="0.12" transform="rotate(7.1 230.05 412.65)">44.0</text>
<text x="214.02" y="384.02" font-size="9.90" font-family='"DejaVu Sans","Liberation Sans",sans-serif' font-style="italic" text-anchor="middle" dominant-baseline="central" stroke-width="0.12" transform="rotate(7.8 214.02 384.02)">45.0</text>
<text x="243.91" y="361.26" font-size="9.90" font-family='"DejaVu Sans","Liberation Sans",sans-serif' font-style="italic" text-anchor="middle" dominant-baseline="central" stroke-width="0.12" transform="rotate(6.6 243.91 361.26)">46.0</text>
<text x="200.04" y="328.97" font-size="9.90" font-family='"DejaVu Sans","Liberation Sans",sans-serif' font-style="italic" text-anchor="middle" dominant-baseline="central" stroke-width="0.12" transform="rotate(8.5 200.04 328.97)">47.0</text>
<text x="238.91" y="291.70" font-size="9.90" font-family='"DejaVu Sans","Liberation Sans",sans-serif' font-style="italic" text-anchor="middle" dominant-baseline="central" stroke-width="0.12" transform="rotate(6.8 238.91 291.70)">48.6</text>
<rect x="44.60" y="289.60" width="226.50" height="211.10" fill="none" stroke="#000" stroke-width="1.25"/>
<line x1="90.00" x2="90.00" y1="500.70" y2="503.60" stroke="#000" stroke-width="1.25"/>
<text x="90.00" y="514.85" font-size="10.5" font-family='"DejaVu Sans","Liberation Sans",sans-serif' text-anchor="middle">0.2</text>
<line x1="135.47" x2="135.47" y1="500.70" y2="503.60" stroke="#000" stroke-width="1.25"/>
<text x="135.47" y="514.85" font-size="10.5" font-family='"DejaVu Sans","Liberation Sans",sans-serif' text-anchor="middle">0.4</text>
<line x1="180.93" x2="180.93" y1="500.70" y2="503.60" stroke="#000" stroke-width="1.25"/>
<text x="180.93" y="514.85" font-size="10.5" font-family='"DejaVu Sans","Liberation Sans",sans-serif' text-anchor="middle">0.6</text>
<line x1="226.40" x2="226.40" y1="500.70" y2="503.60" stroke="#000" stroke-width="1.25"/>
<text x="226.40" y="514.85" font-size="10.5" font-family='"DejaVu Sans","Liberation Sans",sans-serif' text-anchor="middle">0.8</text>
<line x1="44.60" x2="41.70" y1="500.70" y2="500.70" stroke="#000" stroke-width="1.25"/>
<text x="39.10" y="504.69" font-size="10.5" font-family='"DejaVu Sans","Liberation Sans",sans-serif' text-anchor="end">12.0</text>
<line x1="44.60" x2="41.70" y1="474.17" y2="474.17" stroke="#000" stroke-width="1.25"/>
<text x="39.10" y="478.16" font-size="10.5" font-family='"DejaVu Sans","Liberation Sans",sans-serif' text-anchor="end">12.5</text>
<line x1="44.60" x2="41.70" y1="447.64" y2="447.64" stroke="#000" stroke-width="1.25"/>
<text x="39.10" y="451.63" font-size="10.5" font-family='"DejaVu Sans","Liberation Sans",sans-serif' text-anchor="end">13.0</text>
<line x1="44.60" x2="41.70" y1="421.11" y2="421.11" stroke="#000" stroke-width="1.25"/>
<text x="39.10" y="425.10" font-size="10.5" font-family='"DejaVu Sans","Liberation Sans",sans-serif' text-anchor="end">13.5</text>
<line x1="44.60" x2="41.70" y1="394.59" y2="394.59" stroke="#000" stroke-width="1.25"/>
<text x="39.10" y="398.58" font-size="10.5" font-family='"DejaVu Sans","Liberation Sans",sans-serif' text-anchor="end">14.0</text>
<line x1="44.60" x2="41.70" y1="368.06" y2="368.06" stroke="#000" stroke-width="1.25"/>
<text x="39.10" y="372.05" font-size="10.5" font-family='"DejaVu Sans","Liberation Sans",sans-serif' text-anchor="end">14.5</text>
<line x1="44.60" x2="41.70" y1="341.53" y2="341.53" stroke="#000" stroke-width="1.25"/>
<text x="39.10" y="345.52" font-size="10.5" font-family='"DejaVu Sans","Liberation Sans",sans-serif' text-anchor="end">15.0</text>
<line x1="44.60" x2="41.70" y1="315.00" y2="315.00" stroke="#000" stroke-width="1.25"/>
<text x="39.10" y="318.99" font-size="10.5" font-family='"DejaVu Sans","Liberation Sans",sans-serif' text-anchor="end">15.5</text>
<text transform="translate(157.85 284.80)" font-family='"DejaVu Sans","Liberation Sans",sans-serif'><tspan x="-40.03" y="-0.00" font-size="12.00" font-style="italic">L</tspan><tspan x="-33.34" y="1.97" font-size="8.40" font-style="italic">γ</tspan><tspan x="-28.37 -24.06 -21.73 -17.35" y="1.97" font-size="8.40">,iso</tspan><tspan x="-9.55" y="-0.00" font-size="12.00">=</tspan><tspan x="2.84" y="-0.00" font-size="12.00" font-style="italic">η</tspan><tspan x="10.45" y="1.97" font-size="8.40" font-style="italic">γ</tspan><tspan x="15.75" y="-0.00" font-size="12.00" font-style="italic">L</tspan><tspan x="22.43 27.74 34.21" y="1.97" font-size="8.40">EDR</tspan></text>
<text transform="translate(157.85 527.70)" font-family='"DejaVu Sans","Liberation Sans",sans-serif'><tspan x="-9.58" y="-0.00" font-size="12.00" font-style="italic">χ</tspan><tspan x="-2.48 3.28" y="1.97" font-size="8.40">BH</tspan></text>
<text transform="translate(9.90 395.15) rotate(-90)" font-family='"DejaVu Sans","Liberation Sans",sans-serif'><tspan x="-35.41 -32.07 -24.73 -17.11" y="-0.00" font-size="12.00">log(</tspan><tspan x="-12.43" y="-0.00" font-size="12.00" font-style="italic">B</tspan><tspan x="-4.20 1.13 5.44 11.72" y="1.97" font-size="8.40">S,NS</tspan><tspan x="17.38 21.43 30.72" y="-0.00" font-size="12.00">/G)</tspan></text>
<rect x="285.20" y="476.94" width="10.50" height="23.76" fill="#eef5fc"/>
<rect x="285.20" y="453.49" width="10.50" height="23.76" fill="#d9e8f5"/>
<rect x="285.20" y="430.03" width="10.50" height="23.76" fill="#c6dbef"/>
<rect x="285.20" y="406.58" width="10.50" height="23.76" fill="#a6cee4"/>
<rect x="285.20" y="383.12" width="10.50" height="23.76" fill="#7fb9da"/>
<rect x="285.20" y="359.67" width="10.50" height="23.76" fill="#5ba3d0"/>
<rect x="285.20" y="336.21" width="10.50" height="23.76" fill="#3383be"/>
<rect x="285.20" y="312.76" width="10.50" height="23.76" fill="#1460a8"/>
<rect x="285.20" y="289.30" width="10.50" height="23.76" fill="#084184"/>
<rect x="285.20" y="289.60" width="10.50" height="211.10" fill="none" stroke="#000" stroke-width="0.8"/>
<line x1="295.70" x2="298.60" y1="500.70" y2="500.70" stroke="#000" stroke-width="0.9"/>
<text x="301.60" y="503.77" font-size="7.7" font-family='"DejaVu Sans","Liberation Sans",sans-serif'>41.0</text>
<line x1="295.70" x2="298.60" y1="477.24" y2="477.24" stroke="#000" stroke-width="0.9"/>
<text x="301.60" y="480.32" font-size="7.7" font-family='"DejaVu Sans","Liberation Sans",sans-serif'>42.0</text>
<line x1="295.70" x2="298.60" y1="453.79" y2="453.79" stroke="#000" stroke-width="0.9"/>
<text x="301.60" y="456.86" font-size="7.7" font-family='"DejaVu Sans","Liberation Sans",sans-serif'>43.0</text>
<line x1="295.70" x2="298.60" y1="430.33" y2="430.33" stroke="#000" stroke-width="0.9"/>
<text x="301.60" y="433.41" font-size="7.7" font-family='"DejaVu Sans","Liberation Sans",sans-serif'>44.0</text>
<line x1="295.70" x2="298.60" y1="406.88" y2="406.88" stroke="#000" stroke-width="0.9"/>
<text x="301.60" y="409.95" font-size="7.7" font-family='"DejaVu Sans","Liberation Sans",sans-serif'>45.0</text>
<line x1="295.70" x2="298.60" y1="383.42" y2="383.42" stroke="#000" stroke-width="0.9"/>
<text x="301.60" y="386.49" font-size="7.7" font-family='"DejaVu Sans","Liberation Sans",sans-serif'>46.0</text>
<line x1="295.70" x2="298.60" y1="359.97" y2="359.97" stroke="#000" stroke-width="0.9"/>
<text x="301.60" y="363.04" font-size="7.7" font-family='"DejaVu Sans","Liberation Sans",sans-serif'>47.0</text>
<line x1="295.70" x2="298.60" y1="336.51" y2="336.51" stroke="#000" stroke-width="0.9"/>
<text x="301.60" y="339.58" font-size="7.7" font-family='"DejaVu Sans","Liberation Sans",sans-serif'>48.6</text>
<line x1="295.70" x2="298.60" y1="313.06" y2="313.06" stroke="#000" stroke-width="0.9"/>
<text x="301.60" y="316.13" font-size="7.7" font-family='"DejaVu Sans","Liberation Sans",sans-serif'>49.7</text>
<line x1="295.70" x2="298.60" y1="289.60" y2="289.60" stroke="#000" stroke-width="0.9"/>
<text x="301.60" y="292.67" font-size="7.7" font-family='"DejaVu Sans","Liberation Sans",sans-serif'>51.0</text>
<text transform="translate(330.00 395.15) rotate(-90)" font-family='"DejaVu Sans","Liberation Sans",sans-serif'><tspan x="-34.25 -32.03 -27.13 -22.05" y="-0.00" font-size="8.00">log(</tspan><tspan x="-18.93" y="-0.00" font-size="8.00" font-style="italic">L</tspan><tspan x="-14.48" y="1.31" font-size="5.60" font-style="italic">γ</tspan><tspan x="-11.16 -8.29 -6.73 -3.82" y="1.31" font-size="5.60">,iso</tspan><tspan x="-0.17 2.52 7.44 10.73 18.41" y="-0.00" font-size="8.00">/ergs</tspan><tspan x="22.65 27.35" y="-3.06" font-size="5.60">−1</tspan><tspan x="31.13" y="-0.00" font-size="8.00">)</tspan></text>
<clipPath id="c3"><rect x="413.00" y="289.40" width="226.40" height="211.30"/></clipPath>
<g clip-path="url(#c3)">
<polygon fill="#eaf3fb" points="413.1,229.4 413.14,282.54 413.26,337.09 413.42,353.33 413.67,366.10 414.04,376.55 414.57,385.83 415.28,393.96 416.27,401.62 417.14,406.52 418.00,410.47 418.87,413.76 420.60,419.08 421.46,421.29 423.19,425.10 425.78,429.72 428.38,433.49 430.11,435.65 431.84,437.61 435.30,441.03 437.89,443.26 440.49,445.27 443.08,447.10 446.54,449.30 450.00,451.29 453.46,453.10 456.92,454.76 461.24,456.66 465.57,458.39 469.89,459.99 479.40,463.11 489.78,466.05 501.03,468.81 514.00,471.58 527.84,474.17 543.40,476.74 559.83,479.13 578.00,481.49 597.02,483.69 617.78,485.85 639.40,487.87 641.4,487.9 641.4,229.4"/>
<polygon fill="#cbdef1" points="413.2,229.4 413.17,282.70 413.37,323.32 413.61,337.25 413.94,347.70 414.49,358.14 415.16,366.27 416.27,375.09 417.14,380.00 418.00,383.94 418.87,387.24 420.60,392.55 422.33,396.76 423.19,398.57 424.92,401.77 427.51,405.78 429.24,408.07 430.97,410.13 434.43,413.70 436.16,415.27 438.76,417.43 441.35,419.37 444.81,421.70 447.41,423.29 450.87,425.23 454.32,427.00 457.78,428.62 465.57,431.86 474.22,434.94 483.73,437.86 494.11,440.62 505.35,443.25 517.46,445.73 531.30,448.24 546.00,450.61 562.43,452.96 579.73,455.17 597.89,457.26 617.78,459.32 639.40,461.34 641.4,461.3 641.4,229.4"/>
<polygon fill="#97c6df" points="413.4,229.4 413.40,283.20 413.64,295.97 413.99,306.41 414.49,315.70 415.16,323.82 416.27,332.64 417.14,337.55 418.00,341.49 418.87,344.79 419.73,347.62 421.46,352.32 422.33,354.31 424.06,357.79 426.65,362.08 429.24,365.62 430.97,367.68 432.70,369.55 434.43,371.25 437.03,373.57 441.35,376.92 446.54,380.33 449.14,381.84 452.59,383.69 458.65,386.56 466.43,389.75 474.22,392.50 482.86,395.16 492.38,397.74 502.76,400.22 514.00,402.61 526.11,404.89 539.08,407.08 552.92,409.19 568.48,411.32 584.05,413.24 601.35,415.18 619.51,417.04 639.40,418.90 641.4,418.9 641.4,229.4"/>
<polygon fill="#5ca4d0" points="414.3,229.4 414.27,283.03 414.74,290.00 415.41,296.96 416.27,303.46 417.14,308.37 418.00,312.31 418.87,315.61 420.60,320.93 422.33,325.13 423.19,326.94 424.92,330.14 427.51,334.15 430.11,337.50 433.57,341.24 437.03,344.39 441.35,347.74 445.68,350.62 450.87,353.60 456.05,356.20 462.11,358.86 469.03,361.52 476.81,364.15 484.59,366.48 493.24,368.78 502.76,371.04 513.13,373.25 523.51,375.24 535.62,377.34 547.73,379.24 560.70,381.10 574.54,382.90 589.24,384.66 604.81,386.37 621.24,388.03 639.40,389.72 641.4,389.7 641.4,229.4"/>
<polygon fill="#3181bd" points="418.9,229.4 418.87,281.12 419.73,283.96 421.46,288.65 423.19,292.45 425.78,297.08 427.51,299.67 430.11,303.01 432.70,305.88 436.16,309.16 439.62,311.98 443.08,314.46 447.41,317.18 451.73,319.57 456.92,322.11 462.11,324.37 467.30,326.40 473.35,328.54 479.40,330.47 486.32,332.47 494.11,334.51 501.89,336.36 510.54,338.24 519.19,339.95 528.70,341.68 538.21,343.28 548.59,344.88 559.83,346.49 584.05,349.57 610.86,352.51 639.40,355.23 641.4,355.2 641.4,229.4"/>
<polygon fill="#1460a8" points="437.0,229.4 437.03,283.37 439.62,285.45 442.22,287.34 444.81,289.06 448.27,291.15 451.73,293.04 455.19,294.77 458.65,296.37 462.97,298.20 467.30,299.87 471.62,301.42 481.13,304.46 491.51,307.33 502.76,310.03 515.73,312.75 529.57,315.30 544.27,317.70 560.70,320.08 578.00,322.32 597.02,324.52 617.78,326.68 639.40,328.70 641.4,328.7 641.4,229.4"/>
<polygon fill="#084082" points="501.9,229.4 501.89,283.30 514.86,286.05 528.70,288.63 543.40,291.04 559.83,293.43 578.00,295.79 597.02,297.99 617.78,300.15 639.40,302.17 641.4,302.2 641.4,229.4"/>
<polygon fill="#ffd700" points="413.4,229.4 413.40,283.20 413.64,295.97 413.99,306.41 414.49,315.70 415.16,323.82 416.27,332.64 417.14,337.55 418.00,341.49 418.87,344.79 419.73,347.62 421.46,352.32 422.33,354.31 424.06,357.79 426.65,362.08 429.24,365.62 430.97,367.68 432.70,369.55 434.43,371.25 437.03,373.57 441.35,376.92 446.54,380.33 449.14,381.84 452.59,383.69 458.65,386.56 466.43,389.75 474.22,392.50 482.86,395.16 492.38,397.74 502.76,400.22 514.00,402.61 526.11,404.89 539.08,407.08 552.92,409.19 568.48,411.32 584.05,413.24 601.35,415.18 619.51,417.04 639.40,418.90 641.4,418.9 641.4,229.4"/>
<polygon fill="#5ca4d0" points="414.3,229.4 414.27,283.03 414.74,290.00 415.41,296.96 416.27,303.46 417.14,308.37 418.00,312.31 418.87,315.61 420.60,320.93 422.33,325.13 423.19,326.94 424.92,330.14 427.51,334.15 430.11,337.50 433.57,341.24 437.03,344.39 441.35,347.74 445.68,350.62 450.87,353.60 456.05,356.20 462.11,358.86 469.03,361.52 476.81,364.15 484.59,366.48 493.24,368.78 502.76,371.04 513.13,373.25 523.51,375.24 535.62,377.34 547.73,379.24 560.70,381.10 574.54,382.90 589.24,384.66 604.81,386.37 621.24,388.03 639.40,389.72 641.4,389.7 641.4,229.4"/>
<polygon fill="#3181bd" points="418.9,229.4 418.87,281.12 419.73,283.96 421.46,288.65 423.19,292.45 425.78,297.08 427.51,299.67 430.11,303.01 432.70,305.88 436.16,309.16 439.62,311.98 443.08,314.46 447.41,317.18 451.73,319.57 456.92,322.11 462.11,324.37 467.30,326.40 473.35,328.54 479.40,330.47 486.32,332.47 494.11,334.51 501.89,336.36 510.54,338.24 519.19,339.95 528.70,341.68 538.21,343.28 548.59,344.88 559.83,346.49 584.05,349.57 610.86,352.51 639.40,355.23 641.4,355.2 641.4,229.4"/>
<polygon fill="#1460a8" points="437.0,229.4 437.03,283.37 439.62,285.45 442.22,287.34 444.81,289.06 448.27,291.15 451.73,293.04 455.19,294.77 458.65,296.37 462.97,298.20 467.30,299.87 471.62,301.42 481.13,304.46 491.51,307.33 502.76,310.03 515.73,312.75 529.57,315.30 544.27,317.70 560.70,320.08 578.00,322.32 597.02,324.52 617.78,326.68 639.40,328.70 641.4,328.7 641.4,229.4"/>
<polygon fill="#084082" points="501.9,229.4 501.89,283.30 514.86,286.05 528.70,288.63 543.40,291.04 559.83,293.43 578.00,295.79 597.02,297.99 617.78,300.15 639.40,302.17 641.4,302.2 641.4,229.4"/>
<polyline fill="none" stroke="#000" stroke-width="1.3" stroke-linejoin="round" points="413.14,282.54 413.21,325.48 413.38,350.47"/>
<polyline fill="none" stroke="#000" stroke-width="1.3" stroke-linejoin="round" points="414.19,379.70 414.74,388.15 415.41,395.12 416.27,401.62 417.14,406.52 418.00,410.47 418.87,413.76 419.73,416.60 421.46,421.29 422.33,423.28 424.06,426.76 426.65,431.06 429.24,434.60 430.97,436.65 432.70,438.52 436.16,441.80 440.49,445.27 444.81,448.23 450.00,451.29 455.19,453.94 461.24,456.66 468.16,459.36 475.95,462.03 483.73,464.39 492.38,466.72 501.89,469.00 512.27,471.23 522.65,473.24 534.75,475.35 546.86,477.27 559.83,479.13 573.67,480.95 588.37,482.72 604.81,484.53 621.24,486.18 639.40,487.87"/>
<polyline fill="none" stroke="#000" stroke-width="1.3" stroke-linejoin="round" points="413.17,282.70 413.20,297.73"/>
<polyline fill="none" stroke="#000" stroke-width="1.3" stroke-linejoin="round" points="413.42,326.97 413.67,339.57 414.04,350.02 414.57,359.30 415.28,367.43 416.27,375.09 417.14,380.00 418.00,383.94 418.87,387.24 420.60,392.55 422.33,396.76 423.19,398.57 424.92,401.77 427.51,405.78 429.24,408.07 430.97,410.13 434.43,413.70 437.89,416.73 442.22,419.98 447.41,423.29 453.46,426.57 459.51,429.39 467.30,432.52 475.08,435.22 483.73,437.86 493.24,440.41 503.62,442.86 514.86,445.23 526.97,447.49 539.94,449.67 553.78,451.76 569.35,453.87 584.92,455.79 602.21,457.72 620.37,459.57 639.40,461.34"/>
<polyline fill="none" stroke="#000" stroke-width="1.3" stroke-linejoin="round" points="413.40,283.20 413.61,294.81 413.94,305.25 414.34,313.38 414.94,321.50 415.41,326.14 416.27,332.64 417.14,337.55 418.00,341.49 418.87,344.79 420.60,350.11 422.33,354.31 424.06,357.79 426.65,362.08 429.24,365.62 430.97,367.68 432.70,369.55 436.16,372.83 439.62,375.65 443.95,378.70 449.14,381.84 454.32,384.55 460.38,387.32 467.30,390.07 474.22,392.50 482.00,394.91 489.78,397.07 499.30,399.43 508.81,401.54 519.19,403.62 530.43,405.65 542.54,407.63 554.65,409.43 568.48,411.32 582.45,413.05"/>
<polyline fill="none" stroke="#000" stroke-width="1.3" stroke-linejoin="round" points="611.52,416.25 639.40,418.90"/>
<polyline fill="none" stroke="#000" stroke-width="1.3" stroke-linejoin="round" points="414.27,283.03 414.74,290.00 415.41,296.96 416.27,303.46 417.14,308.37 418.00,312.31 418.87,315.61 419.73,318.44 420.60,320.93 422.33,325.13 424.06,328.61 425.78,331.57 428.38,335.33 430.97,338.50 433.57,341.24 437.03,344.39 440.49,347.12 443.95,349.52 448.27,352.16 453.46,354.94 458.65,357.38 463.84,359.56 469.89,361.83 475.95,363.88 482.86,365.98 489.78,367.89 497.57,369.84 505.35,371.62 514.00,373.43 523.51,375.24 533.89,377.06 544.27,378.72 555.51,380.38 566.99,381.94"/>
<polyline fill="none" stroke="#000" stroke-width="1.3" stroke-linejoin="round" points="596.02,385.42 616.91,387.61 639.40,389.72"/>
<polyline fill="none" stroke="#000" stroke-width="1.3" stroke-linejoin="round" points="418.87,281.12 419.73,283.96 421.46,288.65 422.33,290.64 424.06,294.12 425.78,297.08 427.51,299.67 429.24,301.96 431.84,304.97 434.43,307.59 437.03,309.90 439.62,311.98 442.22,313.87 445.68,316.13 449.14,318.17 452.59,320.02 456.92,322.11 461.24,324.01 465.57,325.75 470.76,327.65 475.95,329.39 481.13,330.99 487.19,332.71 499.30,335.76 513.13,338.77 527.84,341.53 544.27,344.23 561.99,346.79"/>
<polyline fill="none" stroke="#000" stroke-width="1.3" stroke-linejoin="round" points="591.02,350.38 614.32,352.86 639.40,355.23"/>
<polyline fill="none" stroke="#000" stroke-width="1.3" stroke-linejoin="round" points="437.03,283.37 440.49,286.10 443.95,288.50 447.41,290.65 451.73,293.04 456.05,295.18 460.38,297.12 465.57,299.22 470.76,301.12 475.95,302.86 482.00,304.72 488.05,306.41 494.97,308.20 501.89,309.83 509.67,311.53 517.46,313.09 526.02,314.68"/>
<polyline fill="none" stroke="#000" stroke-width="1.3" stroke-linejoin="round" points="554.90,319.27 573.67,321.78 593.56,324.14 616.05,326.50 639.40,328.70"/>
<polyline fill="none" stroke="#000" stroke-width="1.3" stroke-linejoin="round" points="501.89,283.30 510.54,285.18 520.05,287.06 530.43,288.92 540.81,290.63 552.05,292.34 564.16,294.02 589.45,297.14"/>
<polyline fill="none" stroke="#000" stroke-width="1.3" stroke-linejoin="round" points="618.53,300.22 639.40,302.17"/>
</g>
<text x="415.09" y="365.08" font-size="9.90" font-family='"DejaVu Sans","Liberation Sans",sans-serif' font-style="italic" text-anchor="middle" dominant-baseline="central" stroke-width="0.12" transform="rotate(88.4 415.09 365.08)">46.0</text>
<text x="414.61" y="312.35" font-size="9.90" font-family='"DejaVu Sans","Liberation Sans",sans-serif' font-style="italic" text-anchor="middle" dominant-baseline="central" stroke-width="0.12" transform="rotate(89.6 414.61 312.35)">47.0</text>
<text x="596.98" y="414.65" font-size="9.90" font-family='"DejaVu Sans","Liberation Sans",sans-serif' font-style="italic" text-anchor="middle" dominant-baseline="central" stroke-width="0.12" transform="rotate(6.3 596.98 414.65)">48.6</text>
<text x="581.51" y="383.68" font-size="9.90" font-family='"DejaVu Sans","Liberation Sans",sans-serif' font-style="italic" text-anchor="middle" dominant-baseline="central" stroke-width="0.12" transform="rotate(6.8 581.51 383.68)">49.7</text>
<text x="576.50" y="348.58" font-size="9.90" font-family='"DejaVu Sans","Liberation Sans",sans-serif' font-style="italic" text-anchor="middle" dominant-baseline="central" stroke-width="0.12" transform="rotate(7.1 576.50 348.58)">51.0</text>
<text x="540.46" y="316.98" font-size="9.90" font-family='"DejaVu Sans","Liberation Sans",sans-serif' font-style="italic" text-anchor="middle" dominant-baseline="central" stroke-width="0.12" transform="rotate(9.0 540.46 316.98)">52.0</text>
<text x="603.99" y="298.68" font-size="9.90" font-family='"DejaVu Sans","Liberation Sans",sans-serif' font-style="italic" text-anchor="middle" dominant-baseline="central" stroke-width="0.12" transform="rotate(6.0 603.99 298.68)">53.0</text>
<rect x="413.00" y="289.40" width="226.40" height="211.30" fill="none" stroke="#000" stroke-width="1.25"/>
<line x1="458.60" x2="458.60" y1="500.70" y2="503.60" stroke="#000" stroke-width="1.25"/>
<text x="458.60" y="514.85" font-size="10.5" font-family='"DejaVu Sans","Liberation Sans",sans-serif' text-anchor="middle">0.2</text>
<line x1="504.07" x2="504.07" y1="500.70" y2="503.60" stroke="#000" stroke-width="1.25"/>
<text x="504.07" y="514.85" font-size="10.5" font-family='"DejaVu Sans","Liberation Sans",sans-serif' text-anchor="middle">0.4</text>
<line x1="549.53" x2="549.53" y1="500.70" y2="503.60" stroke="#000" stroke-width="1.25"/>
<text x="549.53" y="514.85" font-size="10.5" font-family='"DejaVu Sans","Liberation Sans",sans-serif' text-anchor="middle">0.6</text>
<line x1="595.00" x2="595.00" y1="500.70" y2="503.60" stroke="#000" stroke-width="1.25"/>
<text x="595.00" y="514.85" font-size="10.5" font-family='"DejaVu Sans","Liberation Sans",sans-serif' text-anchor="middle">0.8</text>
<line x1="413.00" x2="410.10" y1="500.70" y2="500.70" stroke="#000" stroke-width="1.25"/>
<text x="407.50" y="504.69" font-size="10.5" font-family='"DejaVu Sans","Liberation Sans",sans-serif' text-anchor="end">12.0</text>
<line x1="413.00" x2="410.10" y1="474.17" y2="474.17" stroke="#000" stroke-width="1.25"/>
<text x="407.50" y="478.16" font-size="10.5" font-family='"DejaVu Sans","Liberation Sans",sans-serif' text-anchor="end">12.5</text>
<line x1="413.00" x2="410.10" y1="447.64" y2="447.64" stroke="#000" stroke-width="1.25"/>
<text x="407.50" y="451.63" font-size="10.5" font-family='"DejaVu Sans","Liberation Sans",sans-serif' text-anchor="end">13.0</text>
<line x1="413.00" x2="410.10" y1="421.11" y2="421.11" stroke="#000" stroke-width="1.25"/>
<text x="407.50" y="425.10" font-size="10.5" font-family='"DejaVu Sans","Liberation Sans",sans-serif' text-anchor="end">13.5</text>
<line x1="413.00" x2="410.10" y1="394.59" y2="394.59" stroke="#000" stroke-width="1.25"/>
<text x="407.50" y="398.58" font-size="10.5" font-family='"DejaVu Sans","Liberation Sans",sans-serif' text-anchor="end">14.0</text>
<line x1="413.00" x2="410.10" y1="368.06" y2="368.06" stroke="#000" stroke-width="1.25"/>
<text x="407.50" y="372.05" font-size="10.5" font-family='"DejaVu Sans","Liberation Sans",sans-serif' text-anchor="end">14.5</text>
<line x1="413.00" x2="410.10" y1="341.53" y2="341.53" stroke="#000" stroke-width="1.25"/>
<text x="407.50" y="345.52" font-size="10.5" font-family='"DejaVu Sans","Liberation Sans",sans-serif' text-anchor="end">15.0</text>
<line x1="413.00" x2="410.10" y1="315.00" y2="315.00" stroke="#000" stroke-width="1.25"/>
<text x="407.50" y="318.99" font-size="10.5" font-family='"DejaVu Sans","Liberation Sans",sans-serif' text-anchor="end">15.5</text>
<text transform="translate(526.20 284.60)" font-family='"DejaVu Sans","Liberation Sans",sans-serif'><tspan x="-48.86" y="-0.00" font-size="12.00" font-style="italic">L</tspan><tspan x="-42.17" y="1.97" font-size="8.40" font-style="italic">γ</tspan><tspan x="-37.20 -32.89 -30.56 -26.18" y="1.97" font-size="8.40">,iso</tspan><tspan x="-18.38" y="-0.00" font-size="12.00">=</tspan><tspan x="-5.99" y="-0.00" font-size="12.00" font-style="italic">η</tspan><tspan x="1.62" y="1.97" font-size="8.40" font-style="italic">γ</tspan><tspan x="6.92" y="-0.00" font-size="12.00" font-style="italic">L</tspan><tspan x="13.60 19.44 24.75 30.61 34.92 40.25 43.71" y="1.97" font-size="8.40">REC,pre</tspan></text>
<text transform="translate(526.20 527.70)" font-family='"DejaVu Sans","Liberation Sans",sans-serif'><tspan x="-9.58" y="-0.00" font-size="12.00" font-style="italic">χ</tspan><tspan x="-2.48 3.28" y="1.97" font-size="8.40">BH</tspan></text>
<text transform="translate(378.20 395.05) rotate(-90)" font-family='"DejaVu Sans","Liberation Sans",sans-serif'><tspan x="-35.41 -32.07 -24.73 -17.11" y="-0.00" font-size="12.00">log(</tspan><tspan x="-12.43" y="-0.00" font-size="12.00" font-style="italic">B</tspan><tspan x="-4.20 1.13 5.44 11.72" y="1.97" font-size="8.40">S,NS</tspan><tspan x="17.38 21.43 30.72" y="-0.00" font-size="12.00">/G)</tspan></text>
<rect x="653.70" y="470.21" width="10.60" height="30.49" fill="#eaf3fb"/>
<rect x="653.70" y="440.03" width="10.60" height="30.49" fill="#cbdef1"/>
<rect x="653.70" y="409.84" width="10.60" height="30.49" fill="#97c6df"/>
<rect x="653.70" y="379.66" width="10.60" height="30.49" fill="#5ca4d0"/>
<rect x="653.70" y="349.47" width="10.60" height="30.49" fill="#3181bd"/>
<rect x="653.70" y="319.29" width="10.60" height="30.49" fill="#1460a8"/>
<rect x="653.70" y="289.10" width="10.60" height="30.49" fill="#084082"/>
<rect x="653.70" y="289.40" width="10.60" height="211.30" fill="none" stroke="#000" stroke-width="0.8"/>
<line x1="664.30" x2="667.20" y1="500.70" y2="500.70" stroke="#000" stroke-width="0.9"/>
<text x="670.20" y="503.77" font-size="7.7" font-family='"DejaVu Sans","Liberation Sans",sans-serif'>46.0</text>
<line x1="664.30" x2="667.20" y1="470.51" y2="470.51" stroke="#000" stroke-width="0.9"/>
<text x="670.20" y="473.59" font-size="7.7" font-family='"DejaVu Sans","Liberation Sans",sans-serif'>47.0</text>
<line x1="664.30" x2="667.20" y1="440.33" y2="440.33" stroke="#000" stroke-width="0.9"/>
<text x="670.20" y="443.40" font-size="7.7" font-family='"DejaVu Sans","Liberation Sans",sans-serif'>48.6</text>
<line x1="664.30" x2="667.20" y1="410.14" y2="410.14" stroke="#000" stroke-width="0.9"/>
<text x="670.20" y="413.21" font-size="7.7" font-family='"DejaVu Sans","Liberation Sans",sans-serif'>49.7</text>
<line x1="664.30" x2="667.20" y1="379.96" y2="379.96" stroke="#000" stroke-width="0.9"/>
<text x="670.20" y="383.03" font-size="7.7" font-family='"DejaVu Sans","Liberation Sans",sans-serif'>51.0</text>
<line x1="664.30" x2="667.20" y1="349.77" y2="349.77" stroke="#000" stroke-width="0.9"/>
<text x="670.20" y="352.84" font-size="7.7" font-family='"DejaVu Sans","Liberation Sans",sans-serif'>52.0</text>
<line x1="664.30" x2="667.20" y1="319.59" y2="319.59" stroke="#000" stroke-width="0.9"/>
<text x="670.20" y="322.66" font-size="7.7" font-family='"DejaVu Sans","Liberation Sans",sans-serif'>53.0</text>
<line x1="664.30" x2="667.20" y1="289.40" y2="289.40" stroke="#000" stroke-width="0.9"/>
<text x="670.20" y="292.47" font-size="7.7" font-family='"DejaVu Sans","Liberation Sans",sans-serif'>54.0</text>
<text transform="translate(698.60 395.05) rotate(-90)" font-family='"DejaVu Sans","Liberation Sans",sans-serif'><tspan x="-34.25 -32.03 -27.13 -22.05" y="-0.00" font-size="8.00">log(</tspan><tspan x="-18.93" y="-0.00" font-size="8.00" font-style="italic">L</tspan><tspan x="-14.48" y="1.31" font-size="5.60" font-style="italic">γ</tspan><tspan x="-11.16 -8.29 -6.73 -3.82" y="1.31" font-size="5.60">,iso</tspan><tspan x="-0.17 2.52 7.44 10.73 18.41" y="-0.00" font-size="8.00">/ergs</tspan><tspan x="22.65 27.35" y="-3.06" font-size="5.60">−1</tspan><tspan x="31.13" y="-0.00" font-size="8.00">)</tspan></text>
<clipPath id="c4"><rect x="44.60" y="565.60" width="226.80" height="211.20"/></clipPath>
<g clip-path="url(#c4)">
<polygon fill="#ecf4fb" points="44.6,505.6 44.61,558.49 44.89,594.38 45.17,607.72 45.55,618.42 46.05,627.84 46.68,635.96 47.67,644.99 48.54,650.84 49.41,655.58 50.28,659.58 51.14,663.04 52.88,668.86 53.74,671.37 55.48,675.79 58.08,681.38 59.81,684.60 61.55,687.52 65.02,692.69 68.49,697.18 71.09,700.23 73.69,703.04 78.89,708.15 84.96,713.43 91.03,718.18 98.84,723.70 106.64,728.73 115.31,733.88 124.85,739.12 135.26,744.44 146.53,749.84 158.67,755.30 171.68,760.83 185.55,766.41 199.43,771.73 215.03,777.43 230.64,782.89 273.4,782.9 273.4,505.6"/>
<polygon fill="#d5e5f4" points="44.8,505.6 44.77,558.53 45.01,574.51 45.34,586.54 45.81,597.27 46.45,606.72 46.81,610.79 47.67,618.47 48.54,624.31 49.41,629.05 50.28,633.05 51.14,636.51 52.88,642.33 53.74,644.84 55.48,649.26 58.08,654.85 59.81,658.07 61.55,661.00 65.02,666.16 66.75,668.48 69.35,671.70 73.69,676.51 78.89,681.62 84.96,686.90 91.90,692.29 99.70,697.76 107.51,702.74 117.05,708.33 126.58,713.51 137.86,719.19 149.13,724.51 162.14,730.28 175.15,735.72 189.02,741.23 203.76,746.81 219.37,752.44 235.85,758.13 253.19,763.86 271.40,769.64 273.4,769.6 273.4,505.6"/>
<polygon fill="#bad6eb" points="45.3,505.6 45.29,558.67 45.81,570.74 46.45,580.19 46.81,584.27 47.67,591.94 48.54,597.78 49.41,602.52 50.28,606.52 51.14,609.99 52.88,615.81 54.61,620.61 57.21,626.57 59.81,631.54 61.55,634.47 63.28,637.15 66.75,641.95 71.09,647.17 75.42,651.76 80.63,656.66 85.83,661.08 92.77,666.40 99.70,671.23 107.51,676.21 115.31,680.82 124.85,686.06 134.39,690.96 144.80,695.97 156.07,701.10 168.21,706.32 180.35,711.29 194.22,716.70 208.10,721.87 222.84,727.13 238.45,732.48 254.92,737.90 271.40,743.11 273.4,743.1 273.4,505.6"/>
<polygon fill="#94c4df" points="46.8,505.6 46.81,557.74 47.67,565.41 48.54,571.25 49.41,575.99 50.28,579.99 51.14,583.46 52.88,589.28 54.61,594.08 57.21,600.04 59.81,605.01 62.42,609.31 65.88,614.28 69.35,618.64 73.69,623.46 78.02,627.75 83.23,632.40 88.43,636.62 94.50,641.12 101.44,645.84 108.37,650.21 116.18,654.79 124.85,659.53 133.52,663.99 143.06,668.63 153.47,673.41 163.87,677.96 175.15,682.66 187.29,687.50 200.29,692.46 213.30,697.23 227.18,702.11 241.05,706.82 255.79,711.65 271.40,716.58 273.4,716.6 273.4,505.6"/>
<polygon fill="#65aad4" points="51.1,505.6 51.14,556.93 52.88,562.75 54.61,567.55 56.35,571.66 58.95,576.92 61.55,581.41 64.15,585.36 66.75,588.89 70.22,593.12 73.69,596.93 78.02,601.22 82.36,605.13 86.70,608.72 91.90,612.71 97.10,616.41 103.17,620.44 109.24,624.21 116.18,628.26 123.12,632.08 130.92,636.16 138.73,640.03 147.40,644.12 156.07,648.04 165.61,652.17 176.01,656.49 186.42,660.64 197.69,664.96 208.96,669.13 220.24,673.16 232.38,677.37 245.39,681.73 271.40,690.05 273.4,690.1 273.4,505.6"/>
<polygon fill="#4090c5" points="64.1,505.6 64.15,558.83 66.75,562.37 69.35,565.58 71.95,568.54 75.42,572.17 78.89,575.51 82.36,578.60 85.83,581.50 90.16,584.89 94.50,588.06 98.84,591.06 104.04,594.46 109.24,597.68 119.65,603.67 125.72,606.94 131.79,610.07 144.80,616.39 159.54,623.04 175.15,629.61 192.49,636.46 210.70,643.23 229.78,649.95 249.72,656.62 271.40,663.52 273.4,663.5 273.4,505.6"/>
<polygon fill="#1a68ae" points="91.0,505.6 91.03,559.01 97.97,563.95 104.91,568.48 112.71,573.21 121.38,578.09 130.92,583.10 140.46,587.80 150.87,592.65 161.27,597.26 173.41,602.37 185.55,607.24 198.56,612.23 211.57,617.02 225.44,621.93 240.18,626.94 255.79,632.06 271.40,637.00 273.4,637.0 273.4,505.6"/>
<polygon fill="#084184" points="172.5,505.6 172.54,559.57 182.95,563.77 194.22,568.14 206.36,572.68 218.50,577.05 231.51,581.57 244.52,585.94 257.53,590.17 271.40,594.55 273.4,594.5 273.4,505.6"/>
<polygon fill="#ffd700" points="172.5,505.6 172.54,559.57 182.95,563.77 194.22,568.14 206.36,572.68 218.50,577.05 231.51,581.57 244.52,585.94 257.53,590.17 271.40,594.55 273.4,594.5 273.4,505.6"/>
<polygon fill="#ffffff" points="253.2,505.6 253.19,559.59 271.40,565.37 273.4,565.4 273.4,505.6"/>
<polyline fill="none" stroke="#000" stroke-width="1.3" stroke-linejoin="round" points="44.61,558.49 44.86,591.87"/>
<polyline fill="none" stroke="#000" stroke-width="1.3" stroke-linejoin="round" points="45.67,621.10 46.14,629.19 46.81,637.32 47.67,644.99 48.54,650.84 49.41,655.58 50.28,659.58 51.14,663.04 52.88,668.86 54.61,673.66 56.35,677.77 58.95,683.03 61.55,687.52 65.02,692.69 68.49,697.18 72.82,702.13 77.16,706.51 81.49,710.49 86.70,714.84 92.77,719.46 98.84,723.70 105.77,728.20 113.58,732.88 121.38,737.26 130.05,741.83 138.73,746.14 148.26,750.64 158.67,755.30 169.08,759.74 180.35,764.35 192.49,769.10 204.63,773.66 217.64,778.36 230.64,782.89"/>
<polyline fill="none" stroke="#000" stroke-width="1.3" stroke-linejoin="round" points="44.77,558.53 44.99,573.18 45.29,585.20 45.67,594.58 46.24,604.01 46.81,610.79 47.67,618.47 48.54,624.31 49.41,629.05 50.28,633.05 52.01,639.58 53.74,644.84 54.61,647.14 56.35,651.24 58.95,656.50 60.68,659.57 62.42,662.36 65.88,667.34 69.35,671.70 73.69,676.51 78.89,681.62 84.96,686.90 91.03,691.65 97.97,696.59 105.77,701.67 113.58,706.35 122.25,711.20 131.79,716.18 142.19,721.27 153.47,726.47 165.61,731.76 177.75,736.78 190.75,741.90 204.63,747.13 219.37,752.44 234.58,757.70"/>
<polyline fill="none" stroke="#000" stroke-width="1.3" stroke-linejoin="round" points="262.37,766.80 271.40,769.64"/>
<polyline fill="none" stroke="#000" stroke-width="1.3" stroke-linejoin="round" points="45.29,558.67 45.67,568.05 46.24,577.49 46.81,584.27 47.67,591.94 48.54,597.78 49.41,602.52 50.28,606.52 51.14,609.99 52.88,615.81 54.61,620.61 57.21,626.57 59.81,631.54 62.42,635.84 65.88,640.81 69.35,645.17 72.82,649.07 77.16,653.46 82.36,658.18 87.56,662.47 93.63,667.03 99.70,671.23 106.64,675.68 114.44,680.33 122.25,684.67 130.92,689.21 140.46,693.92 150.00,698.38 160.40,703.00 170.81,707.41 182.08,711.98 194.22,716.70 206.36,721.24 219.68,726.02"/>
<polyline fill="none" stroke="#000" stroke-width="1.3" stroke-linejoin="round" points="247.36,735.44 271.40,743.11"/>
<polyline fill="none" stroke="#000" stroke-width="1.3" stroke-linejoin="round" points="46.81,557.74 47.67,565.41 48.54,571.25 49.41,575.99 50.28,579.99 51.14,583.46 52.88,589.28 54.61,594.08 57.21,600.04 58.95,603.44 61.55,607.94 64.15,611.89 67.62,616.53 71.09,620.64 74.56,624.35 78.02,627.75 82.36,631.66 86.70,635.25 91.90,639.24 97.10,642.94 103.17,646.97 109.24,650.74 116.18,654.79 123.12,658.61 130.92,662.68 138.73,666.55 147.40,670.65 156.07,674.57 164.74,678.33 174.28,682.31 184.68,686.48 195.09,690.51 206.23,694.66"/>
<polyline fill="none" stroke="#000" stroke-width="1.3" stroke-linejoin="round" points="233.81,704.38 252.32,710.53 271.40,716.58"/>
<polyline fill="none" stroke="#000" stroke-width="1.3" stroke-linejoin="round" points="51.14,556.93 52.88,562.75 54.61,567.55 56.35,571.66 58.08,575.26 59.81,578.49 62.42,582.78 65.02,586.58 67.62,590.00 70.22,593.12 73.69,596.93 77.16,600.40 81.49,604.37 85.83,608.02 90.16,611.41 94.50,614.59 99.70,618.17 104.91,621.54 110.98,625.24 117.05,628.75 123.98,632.55 130.92,636.16 137.86,639.60 145.66,643.32 153.47,646.88 162.14,650.69 170.81,654.35 189.02,661.65 208.96,669.13 231.11,676.94"/>
<polyline fill="none" stroke="#000" stroke-width="1.3" stroke-linejoin="round" points="258.88,686.11 271.40,690.05"/>
<polyline fill="none" stroke="#000" stroke-width="1.3" stroke-linejoin="round" points="64.15,558.83 67.62,563.47 71.95,568.54 74.56,571.30 77.16,573.87 82.36,578.60 88.43,583.56 94.50,588.06 101.44,592.79 108.37,597.15 117.05,602.22 125.72,606.94 135.26,611.80 144.80,616.39 156.07,621.51 167.34,626.37 179.48,631.36 192.32,636.39"/>
<polyline fill="none" stroke="#000" stroke-width="1.3" stroke-linejoin="round" points="219.77,646.47 231.51,650.54 244.52,654.91 257.53,659.15 271.40,663.52"/>
<polyline fill="none" stroke="#000" stroke-width="1.3" stroke-linejoin="round" points="91.03,559.01 96.23,562.75 102.30,566.82 108.37,570.63 115.31,574.71 122.25,578.56 130.05,582.66 138.73,586.97 147.40,591.07 156.94,595.37 166.47,599.48 176.88,603.78 187.29,607.92 198.56,612.23 209.83,616.39 221.10,620.41 233.56,624.71"/>
<polyline fill="none" stroke="#000" stroke-width="1.3" stroke-linejoin="round" points="261.34,633.84 271.40,637.00"/>
<polyline fill="none" stroke="#000" stroke-width="1.3" stroke-linejoin="round" points="172.54,559.57 184.68,564.45 197.69,569.46 210.70,574.26 225.07,579.35"/>
<polyline fill="none" stroke="#000" stroke-width="1.3" stroke-linejoin="round" points="252.79,588.65 271.40,594.55"/>
</g>
<text x="46.56" y="606.48" font-size="9.90" font-family='"DejaVu Sans","Liberation Sans",sans-serif' font-style="italic" text-anchor="middle" dominant-baseline="central" stroke-width="0.12" transform="rotate(88.4 46.56 606.48)">41.0</text>
<text x="248.47" y="762.25" font-size="9.90" font-family='"DejaVu Sans","Liberation Sans",sans-serif' font-style="italic" text-anchor="middle" dominant-baseline="central" stroke-width="0.12" transform="rotate(18.1 248.47 762.25)">42.0</text>
<text x="233.52" y="730.73" font-size="9.90" font-family='"DejaVu Sans","Liberation Sans",sans-serif' font-style="italic" text-anchor="middle" dominant-baseline="central" stroke-width="0.12" transform="rotate(18.8 233.52 730.73)">43.0</text>
<text x="220.02" y="699.52" font-size="9.90" font-family='"DejaVu Sans","Liberation Sans",sans-serif' font-style="italic" text-anchor="middle" dominant-baseline="central" stroke-width="0.12" transform="rotate(19.4 220.02 699.52)">44.0</text>
<text x="245.00" y="681.52" font-size="9.90" font-family='"DejaVu Sans","Liberation Sans",sans-serif' font-style="italic" text-anchor="middle" dominant-baseline="central" stroke-width="0.12" transform="rotate(18.3 245.00 681.52)">45.0</text>
<text x="206.04" y="641.43" font-size="9.90" font-family='"DejaVu Sans","Liberation Sans",sans-serif' font-style="italic" text-anchor="middle" dominant-baseline="central" stroke-width="0.12" transform="rotate(20.2 206.04 641.43)">46.0</text>
<text x="247.45" y="629.27" font-size="9.90" font-family='"DejaVu Sans","Liberation Sans",sans-serif' font-style="italic" text-anchor="middle" dominant-baseline="central" stroke-width="0.12" transform="rotate(18.2 247.45 629.27)">47.0</text>
<text x="238.93" y="584.00" font-size="9.90" font-family='"DejaVu Sans","Liberation Sans",sans-serif' font-style="italic" text-anchor="middle" dominant-baseline="central" stroke-width="0.12" transform="rotate(18.5 238.93 584.00)">48.6</text>
<rect x="44.60" y="565.60" width="226.80" height="211.20" fill="none" stroke="#000" stroke-width="1.25"/>
<line x1="90.00" x2="90.00" y1="776.80" y2="779.70" stroke="#000" stroke-width="1.25"/>
<text x="90.00" y="790.95" font-size="10.5" font-family='"DejaVu Sans","Liberation Sans",sans-serif' text-anchor="middle">0.2</text>
<line x1="135.47" x2="135.47" y1="776.80" y2="779.70" stroke="#000" stroke-width="1.25"/>
<text x="135.47" y="790.95" font-size="10.5" font-family='"DejaVu Sans","Liberation Sans",sans-serif' text-anchor="middle">0.4</text>
<line x1="180.93" x2="180.93" y1="776.80" y2="779.70" stroke="#000" stroke-width="1.25"/>
<text x="180.93" y="790.95" font-size="10.5" font-family='"DejaVu Sans","Liberation Sans",sans-serif' text-anchor="middle">0.6</text>
<line x1="226.40" x2="226.40" y1="776.80" y2="779.70" stroke="#000" stroke-width="1.25"/>
<text x="226.40" y="790.95" font-size="10.5" font-family='"DejaVu Sans","Liberation Sans",sans-serif' text-anchor="middle">0.8</text>
<line x1="44.60" x2="41.70" y1="776.80" y2="776.80" stroke="#000" stroke-width="1.25"/>
<text x="39.10" y="780.79" font-size="10.5" font-family='"DejaVu Sans","Liberation Sans",sans-serif' text-anchor="end">12.0</text>
<line x1="44.60" x2="41.70" y1="750.27" y2="750.27" stroke="#000" stroke-width="1.25"/>
<text x="39.10" y="754.26" font-size="10.5" font-family='"DejaVu Sans","Liberation Sans",sans-serif' text-anchor="end">12.5</text>
<line x1="44.60" x2="41.70" y1="723.74" y2="723.74" stroke="#000" stroke-width="1.25"/>
<text x="39.10" y="727.73" font-size="10.5" font-family='"DejaVu Sans","Liberation Sans",sans-serif' text-anchor="end">13.0</text>
<line x1="44.60" x2="41.70" y1="697.21" y2="697.21" stroke="#000" stroke-width="1.25"/>
<text x="39.10" y="701.20" font-size="10.5" font-family='"DejaVu Sans","Liberation Sans",sans-serif' text-anchor="end">13.5</text>
<line x1="44.60" x2="41.70" y1="670.69" y2="670.69" stroke="#000" stroke-width="1.25"/>
<text x="39.10" y="674.68" font-size="10.5" font-family='"DejaVu Sans","Liberation Sans",sans-serif' text-anchor="end">14.0</text>
<line x1="44.60" x2="41.70" y1="644.16" y2="644.16" stroke="#000" stroke-width="1.25"/>
<text x="39.10" y="648.15" font-size="10.5" font-family='"DejaVu Sans","Liberation Sans",sans-serif' text-anchor="end">14.5</text>
<line x1="44.60" x2="41.70" y1="617.63" y2="617.63" stroke="#000" stroke-width="1.25"/>
<text x="39.10" y="621.62" font-size="10.5" font-family='"DejaVu Sans","Liberation Sans",sans-serif' text-anchor="end">15.0</text>
<line x1="44.60" x2="41.70" y1="591.10" y2="591.10" stroke="#000" stroke-width="1.25"/>
<text x="39.10" y="595.09" font-size="10.5" font-family='"DejaVu Sans","Liberation Sans",sans-serif' text-anchor="end">15.5</text>
<text transform="translate(158.00 560.60)" font-family='"DejaVu Sans","Liberation Sans",sans-serif'><tspan x="-50.95" y="-0.00" font-size="12.00" font-style="italic">L</tspan><tspan x="-44.27" y="1.97" font-size="8.40" font-style="italic">γ</tspan><tspan x="-39.30 -34.99 -32.66 -28.28" y="1.97" font-size="8.40">,iso</tspan><tspan x="-20.48" y="-0.00" font-size="12.00">=</tspan><tspan x="-8.08" y="-0.00" font-size="12.00" font-style="italic">η</tspan><tspan x="-0.48" y="1.97" font-size="8.40" font-style="italic">γ</tspan><tspan x="4.82" y="-0.00" font-size="12.00" font-style="italic">L</tspan><tspan x="11.51 17.34 22.65 28.52 32.82 38.15 43.29 47.67" y="1.97" font-size="8.40">REC,post</tspan></text>
<text transform="translate(158.00 803.80)" font-family='"DejaVu Sans","Liberation Sans",sans-serif'><tspan x="-9.58" y="-0.00" font-size="12.00" font-style="italic">χ</tspan><tspan x="-2.48 3.28" y="1.97" font-size="8.40">BH</tspan></text>
<text transform="translate(9.90 671.20) rotate(-90)" font-family='"DejaVu Sans","Liberation Sans",sans-serif'><tspan x="-35.41 -32.07 -24.73 -17.11" y="-0.00" font-size="12.00">log(</tspan><tspan x="-12.43" y="-0.00" font-size="12.00" font-style="italic">B</tspan><tspan x="-4.20 1.13 5.44 11.72" y="1.97" font-size="8.40">S,NS</tspan><tspan x="17.38 21.43 30.72" y="-0.00" font-size="12.00">/G)</tspan></text>
<rect x="285.20" y="750.10" width="10.50" height="26.70" fill="#ecf4fb"/>
<rect x="285.20" y="723.70" width="10.50" height="26.70" fill="#d5e5f4"/>
<rect x="285.20" y="697.30" width="10.50" height="26.70" fill="#bad6eb"/>
<rect x="285.20" y="670.90" width="10.50" height="26.70" fill="#94c4df"/>
<rect x="285.20" y="644.50" width="10.50" height="26.70" fill="#65aad4"/>
<rect x="285.20" y="618.10" width="10.50" height="26.70" fill="#4090c5"/>
<rect x="285.20" y="591.70" width="10.50" height="26.70" fill="#1a68ae"/>
<rect x="285.20" y="565.30" width="10.50" height="26.70" fill="#084184"/>
<rect x="285.20" y="565.60" width="10.50" height="211.20" fill="none" stroke="#000" stroke-width="0.8"/>
<line x1="295.70" x2="298.60" y1="776.80" y2="776.80" stroke="#000" stroke-width="0.9"/>
<text x="301.60" y="779.87" font-size="7.7" font-family='"DejaVu Sans","Liberation Sans",sans-serif'>41.0</text>
<line x1="295.70" x2="298.60" y1="750.40" y2="750.40" stroke="#000" stroke-width="0.9"/>
<text x="301.60" y="753.47" font-size="7.7" font-family='"DejaVu Sans","Liberation Sans",sans-serif'>42.0</text>
<line x1="295.70" x2="298.60" y1="724.00" y2="724.00" stroke="#000" stroke-width="0.9"/>
<text x="301.60" y="727.07" font-size="7.7" font-family='"DejaVu Sans","Liberation Sans",sans-serif'>43.0</text>
<line x1="295.70" x2="298.60" y1="697.60" y2="697.60" stroke="#000" stroke-width="0.9"/>
<text x="301.60" y="700.67" font-size="7.7" font-family='"DejaVu Sans","Liberation Sans",sans-serif'>44.0</text>
<line x1="295.70" x2="298.60" y1="671.20" y2="671.20" stroke="#000" stroke-width="0.9"/>
<text x="301.60" y="674.27" font-size="7.7" font-family='"DejaVu Sans","Liberation Sans",sans-serif'>45.0</text>
<line x1="295.70" x2="298.60" y1="644.80" y2="644.80" stroke="#000" stroke-width="0.9"/>
<text x="301.60" y="647.87" font-size="7.7" font-family='"DejaVu Sans","Liberation Sans",sans-serif'>46.0</text>
<line x1="295.70" x2="298.60" y1="618.40" y2="618.40" stroke="#000" stroke-width="0.9"/>
<text x="301.60" y="621.47" font-size="7.7" font-family='"DejaVu Sans","Liberation Sans",sans-serif'>47.0</text>
<line x1="295.70" x2="298.60" y1="592.00" y2="592.00" stroke="#000" stroke-width="0.9"/>
<text x="301.60" y="595.07" font-size="7.7" font-family='"DejaVu Sans","Liberation Sans",sans-serif'>48.6</text>
<line x1="295.70" x2="298.60" y1="565.60" y2="565.60" stroke="#000" stroke-width="0.9"/>
<text x="301.60" y="568.67" font-size="7.7" font-family='"DejaVu Sans","Liberation Sans",sans-serif'>49.7</text>
<text transform="translate(330.00 671.20) rotate(-90)" font-family='"DejaVu Sans","Liberation Sans",sans-serif'><tspan x="-34.25 -32.03 -27.13 -22.05" y="-0.00" font-size="8.00">log(</tspan><tspan x="-18.93" y="-0.00" font-size="8.00" font-style="italic">L</tspan><tspan x="-14.48" y="1.31" font-size="5.60" font-style="italic">γ</tspan><tspan x="-11.16 -8.29 -6.73 -3.82" y="1.31" font-size="5.60">,iso</tspan><tspan x="-0.17 2.52 7.44 10.73 18.41" y="-0.00" font-size="8.00">/ergs</tspan><tspan x="22.65 27.35" y="-3.06" font-size="5.60">−1</tspan><tspan x="31.13" y="-0.00" font-size="8.00">)</tspan></text>
<clipPath id="c5"><rect x="413.00" y="560.25" width="226.70" height="218.85"/></clipPath>
<g clip-path="url(#c5)">
<polygon fill="#ecf4fb" points="412.6,500.2 412.60,762.55 452.54,768.67 491.34,774.33 531.29,779.87 571.23,785.11 641.7,785.1 641.7,500.2"/>
<polygon fill="#d6e6f4" points="412.6,500.2 412.60,734.96 441.13,739.37 469.66,743.62 498.19,747.72 526.72,751.67 555.25,755.46 583.78,759.11 611.17,762.47 639.70,765.81 641.7,765.8 641.7,500.2"/>
<polygon fill="#b3d3e8" points="412.6,500.2 412.60,707.38 441.13,711.78 469.66,716.03 498.19,720.13 526.72,724.08 555.25,727.88 583.78,731.52 611.17,734.88 639.70,738.23 641.7,738.2 641.7,500.2"/>
<polygon fill="#7ab6d9" points="412.6,500.2 412.60,663.24 441.13,667.64 469.66,671.90 498.19,676.00 525.58,679.79 554.11,683.59 582.64,687.24 611.17,690.74 639.70,694.09 641.7,694.1 641.7,500.2"/>
<polygon fill="#4b98ca" points="412.6,500.2 412.60,632.90 441.13,637.30 469.66,641.55 498.19,645.65 525.58,649.45 554.11,653.25 582.64,656.90 611.17,660.40 639.70,663.75 641.7,663.7 641.7,500.2"/>
<polygon fill="#2979b9" points="412.6,500.2 412.60,597.03 441.13,601.44 469.66,605.69 498.19,609.79 526.72,613.74 555.25,617.54 583.78,621.18 612.31,624.67 639.70,627.88 641.7,627.9 641.7,500.2"/>
<polygon fill="#105ba4" points="412.6,500.2 412.60,569.45 441.13,573.85 469.66,578.10 498.19,582.21 525.58,586.00 554.11,589.80 582.64,593.45 611.17,596.95 639.70,600.30 641.7,600.3 641.7,500.2"/>
<polygon fill="#083e81" points="494.8,500.2 494.77,554.14 530.14,559.03 566.66,563.84 603.18,568.40 639.70,572.71 641.7,572.7 641.7,500.2"/>
<polygon fill="#ffd700" points="412.6,500.2 412.60,663.24 441.13,667.64 469.66,671.90 498.19,676.00 525.58,679.79 554.11,683.59 582.64,687.24 611.17,690.74 639.70,694.09 641.7,694.1 641.7,500.2"/>
<polygon fill="#4b98ca" points="412.6,500.2 412.60,632.90 441.13,637.30 469.66,641.55 498.19,645.65 525.58,649.45 554.11,653.25 582.64,656.90 611.17,660.40 639.70,663.75 641.7,663.7 641.7,500.2"/>
<polygon fill="#2979b9" points="412.6,500.2 412.60,597.03 441.13,601.44 469.66,605.69 498.19,609.79 526.72,613.74 555.25,617.54 583.78,621.18 612.31,624.67 639.70,627.88 641.7,627.9 641.7,500.2"/>
<polygon fill="#105ba4" points="412.6,500.2 412.60,569.45 441.13,573.85 469.66,578.10 498.19,582.21 525.58,586.00 554.11,589.80 582.64,593.45 611.17,596.95 639.70,600.30 641.7,600.3 641.7,500.2"/>
<polygon fill="#083e81" points="494.8,500.2 494.77,554.14 530.14,559.03 566.66,563.84 603.18,568.40 639.70,572.71 641.7,572.7 641.7,500.2"/>
<polyline fill="none" stroke="#000" stroke-width="1.15" stroke-linejoin="round" points="412.60,762.55 447.98,767.99 484.29,773.33"/>
<polyline fill="none" stroke="#000" stroke-width="1.15" stroke-linejoin="round" points="509.72,776.92 540.42,781.10 571.23,785.11"/>
<polyline fill="none" stroke="#000" stroke-width="1.15" stroke-linejoin="round" points="412.60,734.96 438.85,739.02 465.10,742.95 491.34,746.75 518.34,750.52"/>
<polyline fill="none" stroke="#000" stroke-width="1.15" stroke-linejoin="round" points="543.79,753.96 591.77,760.10 639.70,765.81"/>
<polyline fill="none" stroke="#000" stroke-width="1.15" stroke-linejoin="round" points="412.60,707.38 438.85,711.43 466.24,715.53 492.48,719.33 518.86,723.01"/>
<polyline fill="none" stroke="#000" stroke-width="1.15" stroke-linejoin="round" points="544.31,726.44 591.77,732.52 639.70,738.23"/>
<polyline fill="none" stroke="#000" stroke-width="1.15" stroke-linejoin="round" points="412.60,663.24 438.85,667.30 465.10,671.23 491.34,675.03 518.34,678.80"/>
<polyline fill="none" stroke="#000" stroke-width="1.15" stroke-linejoin="round" points="543.79,682.23 591.77,688.38 639.70,694.09"/>
<polyline fill="none" stroke="#000" stroke-width="1.15" stroke-linejoin="round" points="412.60,632.90 438.85,636.95 465.10,640.88 491.34,644.68 517.27,648.31"/>
<polyline fill="none" stroke="#000" stroke-width="1.15" stroke-linejoin="round" points="542.72,651.75 591.77,658.04 639.70,663.75"/>
<polyline fill="none" stroke="#000" stroke-width="1.15" stroke-linejoin="round" points="412.60,597.03 438.85,601.09 465.10,605.02 491.34,608.82 518.34,612.59"/>
<polyline fill="none" stroke="#000" stroke-width="1.15" stroke-linejoin="round" points="543.79,616.03 591.77,622.17 639.70,627.88"/>
<polyline fill="none" stroke="#000" stroke-width="1.15" stroke-linejoin="round" points="412.60,569.45 438.85,573.51 465.10,577.43 491.34,581.23 518.34,585.01"/>
<polyline fill="none" stroke="#000" stroke-width="1.15" stroke-linejoin="round" points="543.79,588.44 591.77,594.59 639.70,600.30"/>
<polyline fill="none" stroke="#000" stroke-width="1.15" stroke-linejoin="round" points="494.77,554.14 519.87,557.63 545.81,561.13"/>
<polyline fill="none" stroke="#000" stroke-width="1.15" stroke-linejoin="round" points="571.28,564.43 605.46,568.68 639.70,572.71"/>
</g>
<text x="497.00" y="775.12" font-size="8.30" font-family='"DejaVu Sans","Liberation Sans",sans-serif' text-anchor="middle" dominant-baseline="central" stroke-width="0.12" transform="rotate(8.0 497.00 775.12)">45.0</text>
<text x="531.06" y="752.24" font-size="8.30" font-family='"DejaVu Sans","Liberation Sans",sans-serif' text-anchor="middle" dominant-baseline="central" stroke-width="0.12" transform="rotate(7.7 531.06 752.24)">46.0</text>
<text x="531.58" y="724.73" font-size="8.30" font-family='"DejaVu Sans","Liberation Sans",sans-serif' text-anchor="middle" dominant-baseline="central" stroke-width="0.12" transform="rotate(7.7 531.58 724.73)">47.0</text>
<text x="531.06" y="680.52" font-size="8.30" font-family='"DejaVu Sans","Liberation Sans",sans-serif' text-anchor="middle" dominant-baseline="central" stroke-width="0.12" transform="rotate(7.7 531.06 680.52)">48.6</text>
<text x="529.99" y="650.03" font-size="8.30" font-family='"DejaVu Sans","Liberation Sans",sans-serif' text-anchor="middle" dominant-baseline="central" stroke-width="0.12" transform="rotate(7.7 529.99 650.03)">49.7</text>
<text x="531.06" y="614.31" font-size="8.30" font-family='"DejaVu Sans","Liberation Sans",sans-serif' text-anchor="middle" dominant-baseline="central" stroke-width="0.12" transform="rotate(7.7 531.06 614.31)">51.0</text>
<text x="531.06" y="586.73" font-size="8.30" font-family='"DejaVu Sans","Liberation Sans",sans-serif' text-anchor="middle" dominant-baseline="central" stroke-width="0.12" transform="rotate(7.7 531.06 586.73)">52.0</text>
<text x="558.54" y="562.78" font-size="8.30" font-family='"DejaVu Sans","Liberation Sans",sans-serif' text-anchor="middle" dominant-baseline="central" stroke-width="0.12" transform="rotate(7.4 558.54 562.78)">53.0</text>
<rect x="413.00" y="560.25" width="226.70" height="218.85" fill="none" stroke="#000" stroke-width="1.0"/>
<line x1="412.60" x2="412.60" y1="779.10" y2="776.50" stroke="#000" stroke-width="0.5"/>
<line x1="412.60" x2="412.60" y1="560.25" y2="562.85" stroke="#000" stroke-width="0.5"/>
<text x="412.60" y="790.07" font-size="9.7" font-family='"DejaVu Sans","Liberation Sans",sans-serif' text-anchor="middle">0.0</text>
<line x1="458.10" x2="458.10" y1="779.10" y2="776.50" stroke="#000" stroke-width="0.5"/>
<line x1="458.10" x2="458.10" y1="560.25" y2="562.85" stroke="#000" stroke-width="0.5"/>
<text x="458.10" y="790.07" font-size="9.7" font-family='"DejaVu Sans","Liberation Sans",sans-serif' text-anchor="middle">0.2</text>
<line x1="503.60" x2="503.60" y1="779.10" y2="776.50" stroke="#000" stroke-width="0.5"/>
<line x1="503.60" x2="503.60" y1="560.25" y2="562.85" stroke="#000" stroke-width="0.5"/>
<text x="503.60" y="790.07" font-size="9.7" font-family='"DejaVu Sans","Liberation Sans",sans-serif' text-anchor="middle">0.4</text>
<line x1="549.10" x2="549.10" y1="779.10" y2="776.50" stroke="#000" stroke-width="0.5"/>
<line x1="549.10" x2="549.10" y1="560.25" y2="562.85" stroke="#000" stroke-width="0.5"/>
<text x="549.10" y="790.07" font-size="9.7" font-family='"DejaVu Sans","Liberation Sans",sans-serif' text-anchor="middle">0.6</text>
<line x1="594.60" x2="594.60" y1="779.10" y2="776.50" stroke="#000" stroke-width="0.5"/>
<line x1="594.60" x2="594.60" y1="560.25" y2="562.85" stroke="#000" stroke-width="0.5"/>
<text x="594.60" y="790.07" font-size="9.7" font-family='"DejaVu Sans","Liberation Sans",sans-serif' text-anchor="middle">0.8</text>
<line x1="413.00" x2="415.60" y1="779.10" y2="779.10" stroke="#000" stroke-width="0.5"/>
<line x1="639.70" x2="637.10" y1="779.10" y2="779.10" stroke="#000" stroke-width="0.5"/>
<text x="410.60" y="783.19" font-size="9.7" font-family='"DejaVu Sans","Liberation Sans",sans-serif' text-anchor="end">12.0</text>
<line x1="413.00" x2="415.60" y1="751.51" y2="751.51" stroke="#000" stroke-width="0.5"/>
<line x1="639.70" x2="637.10" y1="751.51" y2="751.51" stroke="#000" stroke-width="0.5"/>
<text x="410.60" y="755.60" font-size="9.7" font-family='"DejaVu Sans","Liberation Sans",sans-serif' text-anchor="end">12.5</text>
<line x1="413.00" x2="415.60" y1="723.93" y2="723.93" stroke="#000" stroke-width="0.5"/>
<line x1="639.70" x2="637.10" y1="723.93" y2="723.93" stroke="#000" stroke-width="0.5"/>
<text x="410.60" y="728.01" font-size="9.7" font-family='"DejaVu Sans","Liberation Sans",sans-serif' text-anchor="end">13.0</text>
<line x1="413.00" x2="415.60" y1="696.34" y2="696.34" stroke="#000" stroke-width="0.5"/>
<line x1="639.70" x2="637.10" y1="696.34" y2="696.34" stroke="#000" stroke-width="0.5"/>
<text x="410.60" y="700.43" font-size="9.7" font-family='"DejaVu Sans","Liberation Sans",sans-serif' text-anchor="end">13.5</text>
<line x1="413.00" x2="415.60" y1="668.76" y2="668.76" stroke="#000" stroke-width="0.5"/>
<line x1="639.70" x2="637.10" y1="668.76" y2="668.76" stroke="#000" stroke-width="0.5"/>
<text x="410.60" y="672.84" font-size="9.7" font-family='"DejaVu Sans","Liberation Sans",sans-serif' text-anchor="end">14.0</text>
<line x1="413.00" x2="415.60" y1="641.17" y2="641.17" stroke="#000" stroke-width="0.5"/>
<line x1="639.70" x2="637.10" y1="641.17" y2="641.17" stroke="#000" stroke-width="0.5"/>
<text x="410.60" y="645.26" font-size="9.7" font-family='"DejaVu Sans","Liberation Sans",sans-serif' text-anchor="end">14.5</text>
<line x1="413.00" x2="415.60" y1="613.59" y2="613.59" stroke="#000" stroke-width="0.5"/>
<line x1="639.70" x2="637.10" y1="613.59" y2="613.59" stroke="#000" stroke-width="0.5"/>
<text x="410.60" y="617.67" font-size="9.7" font-family='"DejaVu Sans","Liberation Sans",sans-serif' text-anchor="end">15.0</text>
<line x1="413.00" x2="415.60" y1="586.00" y2="586.00" stroke="#000" stroke-width="0.5"/>
<line x1="639.70" x2="637.10" y1="586.00" y2="586.00" stroke="#000" stroke-width="0.5"/>
<text x="410.60" y="590.09" font-size="9.7" font-family='"DejaVu Sans","Liberation Sans",sans-serif' text-anchor="end">15.5</text>
<text transform="translate(526.35 556.60)" font-family='"Liberation Serif","DejaVu Serif",serif'><tspan x="-28.06" y="-0.00" font-size="11.10" font-style="italic">L</tspan><tspan x="-21.87" y="1.51" font-size="7.77" font-style="italic">γ</tspan><tspan x="-18.80 -15.73 -13.56 -10.53" y="1.51" font-size="7.77">,iso</tspan><tspan x="-4.78" y="-0.00" font-size="11.10">=</tspan><tspan x="3.10" y="-0.00" font-size="11.10" font-style="italic">η</tspan><tspan x="8.62" y="1.51" font-size="7.77" font-style="italic">γ</tspan><tspan x="11.94" y="-0.00" font-size="11.10" font-style="italic">L</tspan><tspan x="18.13 23.32" y="1.51" font-size="7.77">BZ</tspan></text>
<text transform="translate(526.35 803.30)" font-family='"Liberation Serif","DejaVu Serif",serif'><tspan x="-10.33" y="0.00" font-size="14.60" font-style="italic">χ</tspan><tspan x="-3.90 2.93" y="2.07" font-size="10.22">BH</tspan></text>
<text x="381.00" y="707.32" font-size="12.0" font-family='"DejaVu Sans","Liberation Sans",sans-serif' transform="rotate(-90 381.00 707.32)">log</text>
<text transform="translate(381.00 689.03) rotate(-90)" font-family='"Liberation Serif","DejaVu Serif",serif'><tspan x="0.00" y="0.00" font-size="14.20">(</tspan><tspan x="4.75" y="0.00" font-size="14.20" font-style="italic">B</tspan><tspan x="13.45 19.00 22.93 30.14" y="1.93" font-size="9.94">S,NS</tspan><tspan x="36.00 39.96 50.25" y="0.00" font-size="14.20">/G)</tspan></text>
<rect x="653.50" y="751.44" width="11.20" height="27.66" fill="#ecf4fb"/>
<rect x="653.50" y="724.09" width="11.20" height="27.66" fill="#d6e6f4"/>
<rect x="653.50" y="696.73" width="11.20" height="27.66" fill="#b3d3e8"/>
<rect x="653.50" y="669.38" width="11.20" height="27.66" fill="#7ab6d9"/>
<rect x="653.50" y="642.02" width="11.20" height="27.66" fill="#4b98ca"/>
<rect x="653.50" y="614.66" width="11.20" height="27.66" fill="#2979b9"/>
<rect x="653.50" y="587.31" width="11.20" height="27.66" fill="#105ba4"/>
<rect x="653.50" y="559.95" width="11.20" height="27.66" fill="#083e81"/>
<rect x="653.50" y="560.25" width="11.20" height="218.85" fill="none" stroke="#000" stroke-width="0.8"/>
<line x1="664.70" x2="662.50" y1="779.10" y2="779.10" stroke="#000" stroke-width="0.5"/>
<text x="667.60" y="781.57" font-size="7.7" font-family='"DejaVu Sans","Liberation Sans",sans-serif'>45.0</text>
<line x1="664.70" x2="662.50" y1="751.74" y2="751.74" stroke="#000" stroke-width="0.5"/>
<text x="667.60" y="754.22" font-size="7.7" font-family='"DejaVu Sans","Liberation Sans",sans-serif'>46.0</text>
<line x1="664.70" x2="662.50" y1="724.39" y2="724.39" stroke="#000" stroke-width="0.5"/>
<text x="667.60" y="726.86" font-size="7.7" font-family='"DejaVu Sans","Liberation Sans",sans-serif'>47.0</text>
<line x1="664.70" x2="662.50" y1="697.03" y2="697.03" stroke="#000" stroke-width="0.5"/>
<text x="667.60" y="699.50" font-size="7.7" font-family='"DejaVu Sans","Liberation Sans",sans-serif'>48.6</text>
<line x1="664.70" x2="662.50" y1="669.67" y2="669.67" stroke="#000" stroke-width="0.5"/>
<text x="667.60" y="672.15" font-size="7.7" font-family='"DejaVu Sans","Liberation Sans",sans-serif'>49.7</text>
<line x1="664.70" x2="662.50" y1="642.32" y2="642.32" stroke="#000" stroke-width="0.5"/>
<text x="667.60" y="644.79" font-size="7.7" font-family='"DejaVu Sans","Liberation Sans",sans-serif'>51.0</text>
<line x1="664.70" x2="662.50" y1="614.96" y2="614.96" stroke="#000" stroke-width="0.5"/>
<text x="667.60" y="617.43" font-size="7.7" font-family='"DejaVu Sans","Liberation Sans",sans-serif'>52.0</text>
<line x1="664.70" x2="662.50" y1="587.61" y2="587.61" stroke="#000" stroke-width="0.5"/>
<text x="667.60" y="590.08" font-size="7.7" font-family='"DejaVu Sans","Liberation Sans",sans-serif'>53.0</text>
<line x1="664.70" x2="662.50" y1="560.25" y2="560.25" stroke="#000" stroke-width="0.5"/>
<text x="667.60" y="562.72" font-size="7.7" font-family='"DejaVu Sans","Liberation Sans",sans-serif'>54.0</text>
<text transform="translate(693.60 669.67) rotate(-90)" font-family='"Liberation Serif","DejaVu Serif",serif'><tspan x="-29.56 -27.16 -22.85 -18.54" y="0.00" font-size="8.60">log(</tspan><tspan x="-15.67" y="0.00" font-size="8.60" font-style="italic">L</tspan><tspan x="-10.87" y="1.24" font-size="6.02" font-style="italic">γ</tspan><tspan x="-8.49 -6.11 -4.43 -2.08" y="1.24" font-size="6.02">,iso</tspan><tspan x="1.14 3.54 7.37 10.24 16.63" y="0.00" font-size="8.60">/ergs</tspan><tspan x="20.06 23.46" y="-2.89" font-size="6.02">−1</tspan><tspan x="26.69" y="0.00" font-size="8.60">)</tspan></text>
</svg>
</body></html>
